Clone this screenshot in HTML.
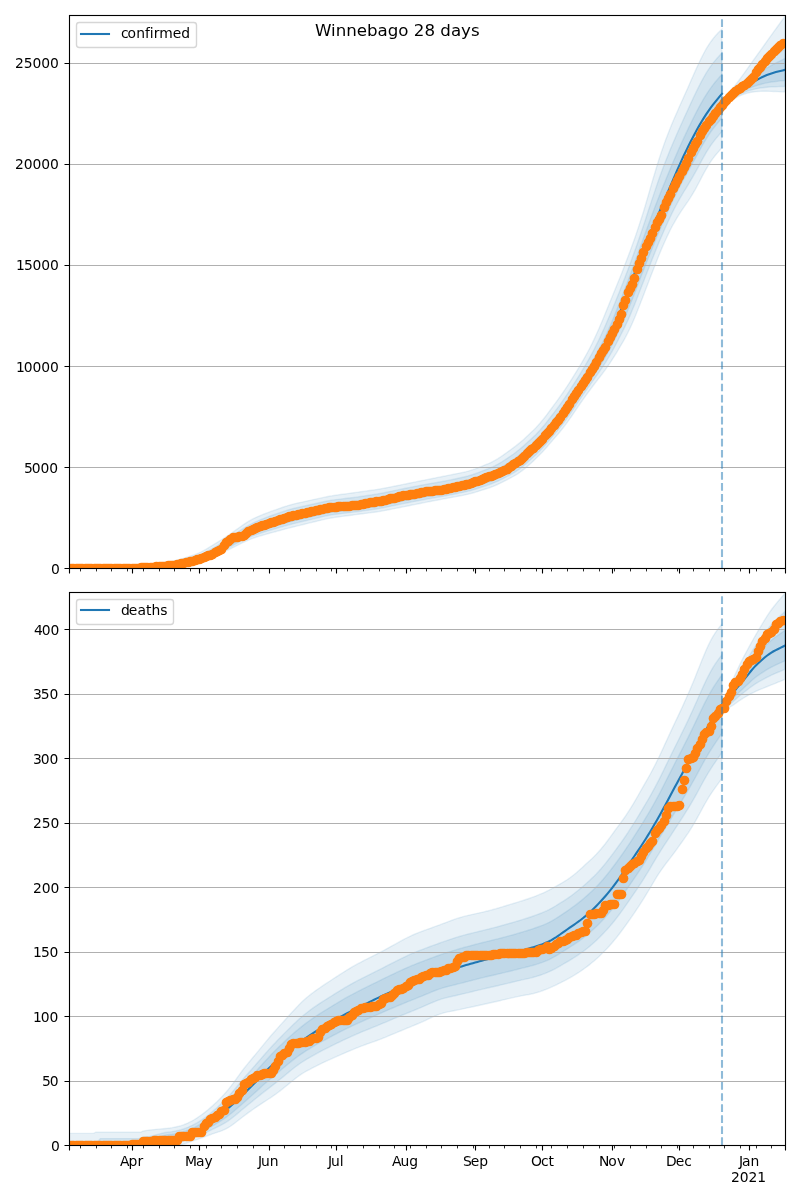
<!DOCTYPE html>
<html lang="en"><head><meta charset="utf-8"><title>Winnebago 28 days</title>
<style>html,body{margin:0;padding:0;background:#fff}svg{display:block}text{font-family:'DejaVu Sans','Liberation Sans',sans-serif;fill:#000;font-variant-ligatures:none}</style></head><body>
<svg width="800" height="1200" viewBox="0 0 800 1200">
<rect width="800" height="1200" fill="#fff"/>
<clipPath id="c1"><rect x="69.5" y="15.5" width="716.0" height="553.0"/></clipPath>
<g clip-path="url(#c1)">
<path d="M68.84 567.5 L71.08 567.47 L73.33 567.43 L75.57 567.4 L77.82 567.36 L80.06 567.33 L82.31 567.29 L84.55 567.26 L86.8 567.22 L89.04 567.18 L91.29 567.15 L93.53 567.11 L95.77 567.07 L98.02 567.04 L100.26 567 L102.51 566.96 L104.75 566.93 L107 566.89 L109.24 566.85 L111.49 566.82 L113.73 566.78 L115.97 566.74 L118.22 566.71 L120.46 566.67 L122.71 566.63 L124.95 566.59 L127.2 566.51 L129.44 566.39 L131.69 566.24 L133.93 566.05 L136.18 565.83 L138.42 565.57 L140.66 565.29 L142.91 565.01 L145.15 564.73 L147.4 564.45 L149.64 564.17 L151.89 563.89 L154.13 563.61 L156.38 563.33 L158.62 563.05 L160.87 562.77 L163.11 562.49 L165.35 562.21 L167.6 561.93 L169.84 561.6 L172.09 561.21 L174.33 560.76 L176.58 560.25 L178.82 559.68 L181.07 559.04 L183.31 558.34 L185.55 557.62 L187.8 556.9 L190.04 556.19 L192.29 555.47 L194.53 554.7 L196.78 553.83 L199.02 552.87 L201.27 551.81 L203.51 550.66 L205.76 549.42 L208 548.08 L210.24 546.7 L212.49 545.31 L214.73 543.93 L216.98 542.55 L219.22 541.17 L221.47 539.76 L223.71 538.32 L225.96 536.85 L228.2 535.35 L230.45 533.82 L232.69 532.26 L234.93 530.67 L237.18 529.08 L239.42 527.49 L241.67 525.9 L243.91 524.34 L246.16 522.86 L248.4 521.47 L250.65 520.17 L252.89 518.96 L255.13 517.84 L257.38 516.8 L259.62 515.85 L261.87 514.92 L264.11 514.01 L266.36 513.14 L268.6 512.29 L270.85 511.46 L273.09 510.67 L275.34 509.88 L277.58 509.1 L279.82 508.31 L282.07 507.53 L284.31 506.76 L286.56 506.04 L288.8 505.35 L291.05 504.71 L293.29 504.12 L295.54 503.56 L297.78 503.05 L300.02 502.56 L302.27 502.07 L304.51 501.58 L306.76 501.08 L309 500.59 L311.25 500.1 L313.49 499.61 L315.74 499.12 L317.98 498.63 L320.23 498.14 L322.47 497.65 L324.71 497.17 L326.96 496.72 L329.2 496.3 L331.45 495.91 L333.69 495.53 L335.94 495.19 L338.18 494.87 L340.43 494.56 L342.67 494.25 L344.92 493.94 L347.16 493.63 L349.4 493.32 L351.65 493.01 L353.89 492.7 L356.14 492.39 L358.38 492.08 L360.63 491.77 L362.87 491.46 L365.12 491.15 L367.36 490.84 L369.6 490.53 L371.85 490.22 L374.09 489.91 L376.34 489.57 L378.58 489.21 L380.83 488.83 L383.07 488.43 L385.32 488.01 L387.56 487.57 L389.81 487.12 L392.05 486.67 L394.29 486.21 L396.54 485.76 L398.78 485.31 L401.03 484.85 L403.27 484.4 L405.52 483.95 L407.76 483.49 L410.01 483.04 L412.25 482.59 L414.5 482.13 L416.74 481.68 L418.98 481.23 L421.23 480.77 L423.47 480.32 L425.72 479.87 L427.96 479.41 L430.21 478.96 L432.45 478.51 L434.7 478.06 L436.94 477.61 L439.18 477.16 L441.43 476.71 L443.67 476.27 L445.92 475.82 L448.16 475.37 L450.41 474.92 L452.65 474.47 L454.9 474.02 L457.14 473.57 L459.39 473.12 L461.63 472.67 L463.87 472.21 L466.12 471.68 L468.36 471.08 L470.61 470.42 L472.85 469.7 L475.1 468.91 L477.34 468.06 L479.59 467.17 L481.83 466.27 L484.08 465.37 L486.32 464.47 L488.56 463.56 L490.81 462.55 L493.05 461.43 L495.3 460.21 L497.54 458.89 L499.79 457.46 L502.03 455.94 L504.28 454.32 L506.52 452.71 L508.76 451.09 L511.01 449.47 L513.25 447.86 L515.5 446.17 L517.74 444.4 L519.99 442.57 L522.23 440.66 L524.48 438.67 L526.72 436.61 L528.97 434.48 L531.21 432.35 L533.45 430.21 L535.7 427.93 L537.94 425.53 L540.19 422.99 L542.43 420.32 L544.68 417.52 L546.92 414.59 L549.17 411.53 L551.41 408.48 L553.66 405.43 L555.9 402.38 L558.14 399.32 L560.39 396.19 L562.63 392.98 L564.88 389.68 L567.12 386.3 L569.37 382.84 L571.61 379.29 L573.86 375.66 L576.1 372.03 L578.34 368.39 L580.59 364.68 L582.83 360.83 L585.08 356.85 L587.32 352.73 L589.57 348.48 L591.81 344.09 L594.06 339.42 L596.3 334.54 L598.55 329.49 L600.79 324.29 L603.03 318.92 L605.28 313.46 L607.52 307.93 L609.77 302.42 L612.01 296.93 L614.26 291.44 L616.5 285.97 L618.75 280.5 L620.99 274.9 L623.23 269.15 L625.48 263.3 L627.72 257.38 L629.97 251.39 L632.21 245.31 L634.46 238.98 L636.7 232.45 L638.95 225.73 L641.19 218.81 L643.44 211.7 L645.68 204.28 L647.92 196.57 L650.17 188.76 L652.41 181.04 L654.66 173.46 L656.9 166.04 L659.15 158.78 L661.39 151.89 L663.64 145.4 L665.88 139.31 L668.13 133.43 L670.37 127.76 L672.61 122.31 L674.86 117.08 L677.1 111.94 L679.35 106.84 L681.59 101.79 L683.84 96.78 L686.08 91.74 L688.33 86.67 L690.57 81.55 L692.81 76.42 L695.06 71.39 L697.3 66.48 L699.55 61.69 L701.79 57.13 L704.04 52.78 L706.28 48.7 L708.53 45.05 L710.77 41.73 L713.02 38.72 L715.26 36.01 L717.5 33.5 L719.75 31.21 L721.99 29.08 L721.99 147.7 L719.75 150.29 L717.5 152.89 L715.26 155.51 L713.02 158.42 L710.77 161.62 L708.53 165.11 L706.28 168.88 L704.04 172.87 L701.79 177.1 L699.55 181.53 L697.3 185.8 L695.06 189.86 L692.81 193.69 L690.57 197.32 L688.33 200.79 L686.08 204.11 L683.84 207.29 L681.59 210.59 L679.35 214.06 L677.1 217.71 L674.86 221.53 L672.61 225.52 L670.37 229.8 L668.13 234.41 L665.88 239.21 L663.64 244.19 L661.39 249.36 L659.15 254.77 L656.9 260.43 L654.66 266.21 L652.41 272.02 L650.17 277.85 L647.92 283.7 L645.68 289.57 L643.44 295.41 L641.19 301.22 L638.95 306.99 L636.7 312.76 L634.46 318.25 L632.21 323.45 L629.97 328.36 L627.72 333 L625.48 337.35 L623.23 341.42 L620.99 345.2 L618.75 348.99 L616.5 352.77 L614.26 356.42 L612.01 359.94 L609.77 363.35 L607.52 366.63 L605.28 369.79 L603.03 372.82 L600.79 375.74 L598.55 378.66 L596.3 381.59 L594.06 384.51 L591.81 387.46 L589.57 390.46 L587.32 393.51 L585.08 396.63 L582.83 399.8 L580.59 403.02 L578.34 406.3 L576.1 409.61 L573.86 412.93 L571.61 416.24 L569.37 419.44 L567.12 422.55 L564.88 425.55 L562.63 428.45 L560.39 431.25 L558.14 433.95 L555.9 436.56 L553.66 439.16 L551.41 441.76 L549.17 444.37 L546.92 446.97 L544.68 449.5 L542.43 451.94 L540.19 454.3 L537.94 456.58 L535.7 458.77 L533.45 460.88 L531.21 462.91 L528.97 464.93 L526.72 466.95 L524.48 468.85 L522.23 470.62 L519.99 472.28 L517.74 473.81 L515.5 475.22 L513.25 476.51 L511.01 477.68 L508.76 478.84 L506.52 480.01 L504.28 481.18 L502.03 482.34 L499.79 483.46 L497.54 484.5 L495.3 485.49 L493.05 486.41 L490.81 487.26 L488.56 488.05 L486.32 488.78 L484.08 489.5 L481.83 490.21 L479.59 490.93 L477.34 491.65 L475.1 492.34 L472.85 492.98 L470.61 493.59 L468.36 494.14 L466.12 494.66 L463.87 495.14 L461.63 495.57 L459.39 495.99 L457.14 496.41 L454.9 496.83 L452.65 497.25 L450.41 497.67 L448.16 498.09 L445.92 498.52 L443.67 498.94 L441.43 499.36 L439.18 499.78 L436.94 500.2 L434.7 500.62 L432.45 501.05 L430.21 501.48 L427.96 501.92 L425.72 502.36 L423.47 502.81 L421.23 503.25 L418.98 503.7 L416.74 504.15 L414.5 504.6 L412.25 505.05 L410.01 505.5 L407.76 505.95 L405.52 506.4 L403.27 506.85 L401.03 507.29 L398.78 507.74 L396.54 508.19 L394.29 508.64 L392.05 509.09 L389.81 509.54 L387.56 509.99 L385.32 510.42 L383.07 510.83 L380.83 511.22 L378.58 511.59 L376.34 511.94 L374.09 512.26 L371.85 512.56 L369.6 512.85 L367.36 513.14 L365.12 513.43 L362.87 513.73 L360.63 514.02 L358.38 514.31 L356.14 514.6 L353.89 514.89 L351.65 515.19 L349.4 515.48 L347.16 515.77 L344.92 516.06 L342.67 516.35 L340.43 516.64 L338.18 516.94 L335.94 517.24 L333.69 517.58 L331.45 517.96 L329.2 518.37 L326.96 518.82 L324.71 519.31 L322.47 519.84 L320.23 520.38 L317.98 520.93 L315.74 521.48 L313.49 522.02 L311.25 522.57 L309 523.12 L306.76 523.67 L304.51 524.21 L302.27 524.76 L300.02 525.31 L297.78 525.85 L295.54 526.41 L293.29 526.97 L291.05 527.53 L288.8 528.11 L286.56 528.7 L284.31 529.29 L282.07 529.89 L279.82 530.5 L277.58 531.1 L275.34 531.71 L273.09 532.32 L270.85 532.93 L268.6 533.54 L266.36 534.17 L264.11 534.81 L261.87 535.46 L259.62 536.12 L257.38 536.79 L255.13 537.51 L252.89 538.29 L250.65 539.14 L248.4 540.05 L246.16 541.02 L243.91 542.06 L241.67 543.17 L239.42 544.29 L237.18 545.41 L234.93 546.53 L232.69 547.65 L230.45 548.76 L228.2 549.86 L225.96 550.95 L223.71 552.02 L221.47 553.08 L219.22 554.13 L216.98 555.16 L214.73 556.2 L212.49 557.24 L210.24 558.27 L208 559.31 L205.76 560.3 L203.51 561.2 L201.27 562 L199.02 562.7 L196.78 563.31 L194.53 563.82 L192.29 564.23 L190.04 564.59 L187.8 564.95 L185.55 565.31 L183.31 565.67 L181.07 566.02 L178.82 566.32 L176.58 566.59 L174.33 566.82 L172.09 567 L169.84 567.15 L167.6 567.25 L165.35 567.33 L163.11 567.41 L160.87 567.48 L158.62 567.56 L156.38 567.63 L154.13 567.71 L151.89 567.79 L149.64 567.86 L147.4 567.94 L145.15 568 L142.91 568 L140.66 568 L138.42 568 L136.18 568 L133.93 568 L131.69 568 L129.44 568 L127.2 568 L124.95 568 L122.71 568 L120.46 568 L118.22 568 L115.97 568 L113.73 568 L111.49 568 L109.24 568 L107 568 L104.75 568 L102.51 568 L100.26 568 L98.02 568 L95.77 568 L93.53 568 L91.29 568 L89.04 568 L86.8 568 L84.55 568 L82.31 568 L80.06 568 L77.82 568 L75.57 568 L73.33 568 L71.08 568 L68.84 568Z" fill="#1f77b4" fill-opacity="0.1" stroke="#1f77b4" stroke-opacity="0.1" stroke-width="1.39" stroke-linejoin="miter"/>
<path d="M68.84 567.83 L71.08 567.81 L73.33 567.79 L75.57 567.76 L77.82 567.74 L80.06 567.71 L82.31 567.69 L84.55 567.66 L86.8 567.64 L89.04 567.61 L91.29 567.58 L93.53 567.56 L95.77 567.53 L98.02 567.51 L100.26 567.48 L102.51 567.46 L104.75 567.43 L107 567.4 L109.24 567.38 L111.49 567.35 L113.73 567.33 L115.97 567.3 L118.22 567.28 L120.46 567.25 L122.71 567.22 L124.95 567.19 L127.2 567.13 L129.44 567.03 L131.69 566.91 L133.93 566.76 L136.18 566.58 L138.42 566.37 L140.66 566.14 L142.91 565.91 L145.15 565.68 L147.4 565.44 L149.64 565.2 L151.89 564.96 L154.13 564.71 L156.38 564.46 L158.62 564.2 L160.87 563.95 L163.11 563.69 L165.35 563.43 L167.6 563.18 L169.84 562.88 L172.09 562.53 L174.33 562.12 L176.58 561.66 L178.82 561.14 L181.07 560.57 L183.31 559.94 L185.55 559.29 L187.8 558.64 L190.04 558 L192.29 557.35 L194.53 556.66 L196.78 555.89 L199.02 555.05 L201.27 554.13 L203.51 553.13 L205.76 552.05 L208 550.88 L210.24 549.64 L212.49 548.38 L214.73 547.09 L216.98 545.75 L219.22 544.36 L221.47 542.93 L223.71 541.47 L225.96 539.98 L228.2 538.47 L230.45 536.95 L232.69 535.44 L234.93 533.94 L237.18 532.46 L239.42 531 L241.67 529.55 L243.91 528.13 L246.16 526.79 L248.4 525.51 L250.65 524.3 L252.89 523.16 L255.13 522.08 L257.38 521.06 L259.62 520.1 L261.87 519.18 L264.11 518.28 L266.36 517.41 L268.6 516.57 L270.85 515.76 L273.09 514.98 L275.34 514.21 L277.58 513.44 L279.82 512.67 L282.07 511.89 L284.31 511.14 L286.56 510.43 L288.8 509.76 L291.05 509.12 L293.29 508.53 L295.54 507.97 L297.78 507.45 L300.02 506.96 L302.27 506.46 L304.51 505.97 L306.76 505.47 L309 504.98 L311.25 504.48 L313.49 503.98 L315.74 503.48 L317.98 502.98 L320.23 502.48 L322.47 501.98 L324.71 501.5 L326.96 501.05 L329.2 500.64 L331.45 500.26 L333.69 499.92 L335.94 499.61 L338.18 499.34 L340.43 499.08 L342.67 498.82 L344.92 498.55 L347.16 498.29 L349.4 498.03 L351.65 497.75 L353.89 497.46 L356.14 497.16 L358.38 496.85 L360.63 496.53 L362.87 496.2 L365.12 495.87 L367.36 495.54 L369.6 495.2 L371.85 494.87 L374.09 494.52 L376.34 494.16 L378.58 493.78 L380.83 493.37 L383.07 492.95 L385.32 492.51 L387.56 492.04 L389.81 491.56 L392.05 491.08 L394.29 490.6 L396.54 490.13 L398.78 489.65 L401.03 489.18 L403.27 488.72 L405.52 488.27 L407.76 487.82 L410.01 487.38 L412.25 486.95 L414.5 486.52 L416.74 486.1 L418.98 485.67 L421.23 485.25 L423.47 484.83 L425.72 484.41 L427.96 484 L430.21 483.6 L432.45 483.2 L434.7 482.82 L436.94 482.44 L439.18 482.06 L441.43 481.67 L443.67 481.26 L445.92 480.83 L448.16 480.39 L450.41 479.93 L452.65 479.46 L454.9 478.97 L457.14 478.49 L459.39 478.01 L461.63 477.52 L463.87 477.02 L466.12 476.47 L468.36 475.87 L470.61 475.21 L472.85 474.5 L475.1 473.73 L477.34 472.92 L479.59 472.06 L481.83 471.2 L484.08 470.35 L486.32 469.49 L488.56 468.62 L490.81 467.68 L493.05 466.65 L495.3 465.54 L497.54 464.36 L499.79 463.09 L502.03 461.73 L504.28 460.27 L506.52 458.8 L508.76 457.3 L511.01 455.77 L513.25 454.22 L515.5 452.57 L517.74 450.81 L519.99 448.99 L522.23 447.1 L524.48 445.14 L526.72 443.11 L528.97 441.01 L531.21 438.93 L533.45 436.85 L535.7 434.66 L537.94 432.34 L540.19 429.9 L542.43 427.33 L544.68 424.65 L546.92 421.84 L549.17 418.92 L551.41 416 L553.66 413.08 L555.9 410.13 L558.14 407.16 L560.39 404.1 L562.63 400.94 L564.88 397.69 L567.12 394.35 L569.37 390.92 L571.61 387.43 L573.86 383.87 L576.1 380.31 L578.34 376.76 L580.59 373.16 L582.83 369.48 L585.08 365.71 L587.32 361.84 L589.57 357.87 L591.81 353.79 L594.06 349.51 L596.3 345.06 L598.55 340.48 L600.79 335.73 L603.03 330.82 L605.28 325.76 L607.52 320.56 L609.77 315.29 L612.01 309.92 L614.26 304.47 L616.5 298.96 L618.75 293.39 L620.99 287.73 L623.23 281.96 L625.48 276.1 L627.72 270.17 L629.97 264.17 L632.21 258.08 L634.46 251.83 L636.7 245.46 L638.95 238.98 L641.19 232.4 L643.44 225.73 L645.68 218.96 L647.92 212.07 L650.17 205.17 L652.41 198.35 L654.66 191.65 L656.9 185.06 L659.15 178.59 L661.39 172.35 L663.64 166.33 L665.88 160.55 L668.13 154.89 L670.37 149.35 L672.61 143.96 L674.86 138.73 L677.1 133.58 L679.35 128.49 L681.59 123.46 L683.84 118.52 L686.08 113.62 L688.33 108.74 L690.57 103.86 L692.81 99 L695.06 94.27 L697.3 89.66 L699.55 85.16 L701.79 80.87 L704.04 76.78 L706.28 72.92 L708.53 69.39 L710.77 66.12 L713.02 63.11 L715.26 60.35 L717.5 57.75 L719.75 55.32 L721.99 53.01 L721.99 131.52 L719.75 134.12 L717.5 136.73 L715.26 139.39 L713.02 142.29 L710.77 145.43 L708.53 148.83 L706.28 152.46 L704.04 156.3 L701.79 160.36 L699.55 164.61 L697.3 168.8 L695.06 172.86 L692.81 176.82 L690.57 180.68 L688.33 184.45 L686.08 188.13 L683.84 191.76 L681.59 195.52 L679.35 199.45 L677.1 203.53 L674.86 207.75 L672.61 212.12 L670.37 216.7 L668.13 221.52 L665.88 226.46 L663.64 231.52 L661.39 236.7 L659.15 242.04 L656.9 247.54 L654.66 253.13 L652.41 258.76 L650.17 264.42 L647.92 270.13 L645.68 275.88 L643.44 281.68 L641.19 287.51 L638.95 293.36 L636.7 299.22 L634.46 304.88 L632.21 310.36 L629.97 315.63 L627.72 320.68 L625.48 325.51 L623.23 330.12 L620.99 334.51 L618.75 338.9 L616.5 343.26 L614.26 347.48 L612.01 351.57 L609.77 355.5 L607.52 359.26 L605.28 362.86 L603.03 366.3 L600.79 369.59 L598.55 372.82 L596.3 376.01 L594.06 379.16 L591.81 382.31 L589.57 385.48 L587.32 388.67 L585.08 391.87 L582.83 395.12 L580.59 398.4 L578.34 401.71 L576.1 405.06 L573.86 408.4 L571.61 411.75 L569.37 415.01 L567.12 418.2 L564.88 421.29 L562.63 424.27 L560.39 427.15 L558.14 429.92 L555.9 432.59 L553.66 435.24 L551.41 437.88 L549.17 440.51 L546.92 443.14 L544.68 445.69 L542.43 448.14 L540.19 450.51 L537.94 452.79 L535.7 454.97 L533.45 457.07 L531.21 459.08 L528.97 461.09 L526.72 463.12 L524.48 465.04 L522.23 466.86 L519.99 468.57 L517.74 470.19 L515.5 471.69 L513.25 473.07 L511.01 474.32 L508.76 475.55 L506.52 476.76 L504.28 477.95 L502.03 479.12 L499.79 480.22 L497.54 481.25 L495.3 482.23 L493.05 483.15 L490.81 484.01 L488.56 484.81 L486.32 485.56 L484.08 486.29 L481.83 487.03 L479.59 487.77 L477.34 488.51 L475.1 489.22 L472.85 489.89 L470.61 490.52 L468.36 491.11 L466.12 491.65 L463.87 492.16 L461.63 492.63 L459.39 493.09 L457.14 493.55 L454.9 494 L452.65 494.46 L450.41 494.91 L448.16 495.35 L445.92 495.77 L443.67 496.18 L441.43 496.58 L439.18 496.97 L436.94 497.34 L434.7 497.71 L432.45 498.09 L430.21 498.49 L427.96 498.89 L425.72 499.3 L423.47 499.71 L421.23 500.14 L418.98 500.57 L416.74 500.99 L414.5 501.42 L412.25 501.85 L410.01 502.28 L407.76 502.72 L405.52 503.16 L403.27 503.61 L401.03 504.07 L398.78 504.53 L396.54 505 L394.29 505.47 L392.05 505.94 L389.81 506.41 L387.56 506.89 L385.32 507.34 L383.07 507.78 L380.83 508.19 L378.58 508.58 L376.34 508.95 L374.09 509.3 L371.85 509.62 L369.6 509.94 L367.36 510.26 L365.12 510.57 L362.87 510.89 L360.63 511.21 L358.38 511.51 L356.14 511.81 L353.89 512.09 L351.65 512.37 L349.4 512.64 L347.16 512.91 L344.92 513.16 L342.67 513.42 L340.43 513.68 L338.18 513.94 L335.94 514.21 L333.69 514.52 L331.45 514.88 L329.2 515.27 L326.96 515.7 L324.71 516.18 L322.47 516.69 L320.23 517.23 L317.98 517.77 L315.74 518.31 L313.49 518.84 L311.25 519.38 L309 519.92 L306.76 520.45 L304.51 520.98 L302.27 521.52 L300.02 522.05 L297.78 522.58 L295.54 523.13 L293.29 523.69 L291.05 524.26 L288.8 524.85 L286.56 525.46 L284.31 526.08 L282.07 526.72 L279.82 527.37 L277.58 528.02 L275.34 528.67 L273.09 529.31 L270.85 529.97 L268.6 530.64 L266.36 531.33 L264.11 532.03 L261.87 532.75 L259.62 533.49 L257.38 534.24 L255.13 535.04 L252.89 535.89 L250.65 536.8 L248.4 537.75 L246.16 538.76 L243.91 539.82 L241.67 540.94 L239.42 542.09 L237.18 543.25 L234.93 544.43 L232.69 545.61 L230.45 546.82 L228.2 548.04 L225.96 549.26 L223.71 550.46 L221.47 551.65 L219.22 552.83 L216.98 553.98 L214.73 555.08 L212.49 556.15 L210.24 557.19 L208 558.21 L205.76 559.17 L203.51 560.04 L201.27 560.82 L199.02 561.52 L196.78 562.14 L194.53 562.68 L192.29 563.13 L190.04 563.54 L187.8 563.95 L185.55 564.36 L183.31 564.77 L181.07 565.16 L178.82 565.52 L176.58 565.83 L174.33 566.1 L172.09 566.33 L169.84 566.52 L167.6 566.67 L165.35 566.79 L163.11 566.91 L160.87 567.02 L158.62 567.14 L156.38 567.26 L154.13 567.37 L151.89 567.49 L149.64 567.59 L147.4 567.7 L145.15 567.8 L142.91 567.9 L140.66 568 L138.42 568 L136.18 568 L133.93 568 L131.69 568 L129.44 568 L127.2 568 L124.95 568 L122.71 568 L120.46 568 L118.22 568 L115.97 568 L113.73 568 L111.49 568 L109.24 568 L107 568 L104.75 568 L102.51 568 L100.26 568 L98.02 568 L95.77 568 L93.53 568 L91.29 568 L89.04 568 L86.8 568 L84.55 568 L82.31 568 L80.06 568 L77.82 568 L75.57 568 L73.33 568 L71.08 568 L68.84 568Z" fill="#1f77b4" fill-opacity="0.1" stroke="#1f77b4" stroke-opacity="0.1" stroke-width="1.39" stroke-linejoin="miter"/>
<path d="M68.84 568.13 L71.08 568.12 L73.33 568.1 L75.57 568.09 L77.82 568.07 L80.06 568.05 L82.31 568.04 L84.55 568.02 L86.8 568.01 L89.04 567.99 L91.29 567.97 L93.53 567.96 L95.77 567.94 L98.02 567.93 L100.26 567.91 L102.51 567.89 L104.75 567.88 L107 567.86 L109.24 567.85 L111.49 567.83 L113.73 567.81 L115.97 567.8 L118.22 567.78 L120.46 567.77 L122.71 567.75 L124.95 567.73 L127.2 567.68 L129.44 567.61 L131.69 567.51 L133.93 567.39 L136.18 567.25 L138.42 567.08 L140.66 566.9 L142.91 566.72 L145.15 566.53 L147.4 566.33 L149.64 566.13 L151.89 565.91 L154.13 565.7 L156.38 565.47 L158.62 565.23 L160.87 565 L163.11 564.76 L165.35 564.53 L167.6 564.29 L169.84 564.02 L172.09 563.71 L174.33 563.34 L176.58 562.92 L178.82 562.45 L181.07 561.93 L183.31 561.36 L185.55 560.78 L187.8 560.19 L190.04 559.61 L192.29 559.03 L194.53 558.41 L196.78 557.73 L199.02 556.99 L201.27 556.19 L203.51 555.33 L205.76 554.4 L208 553.37 L210.24 552.27 L212.49 551.12 L214.73 549.91 L216.98 548.61 L219.22 547.21 L221.47 545.75 L223.71 544.27 L225.96 542.77 L228.2 541.26 L230.45 539.74 L232.69 538.27 L234.93 536.86 L237.18 535.48 L239.42 534.12 L241.67 532.8 L243.91 531.51 L246.16 530.29 L248.4 529.12 L250.65 527.99 L252.89 526.9 L255.13 525.86 L257.38 524.85 L259.62 523.9 L261.87 522.98 L264.11 522.08 L266.36 521.22 L268.6 520.39 L270.85 519.59 L273.09 518.82 L275.34 518.06 L277.58 517.31 L279.82 516.55 L282.07 515.79 L284.31 515.05 L286.56 514.35 L288.8 513.68 L291.05 513.05 L293.29 512.46 L295.54 511.9 L297.78 511.38 L300.02 510.89 L302.27 510.39 L304.51 509.89 L306.76 509.39 L309 508.89 L311.25 508.39 L313.49 507.88 L315.74 507.38 L317.98 506.87 L320.23 506.36 L322.47 505.84 L324.71 505.36 L326.96 504.91 L329.2 504.51 L331.45 504.15 L333.69 503.83 L335.94 503.56 L338.18 503.32 L340.43 503.1 L342.67 502.89 L344.92 502.67 L347.16 502.45 L349.4 502.22 L351.65 501.97 L353.89 501.7 L356.14 501.42 L358.38 501.11 L360.63 500.78 L362.87 500.43 L365.12 500.08 L367.36 499.72 L369.6 499.36 L371.85 499.01 L374.09 498.64 L376.34 498.26 L378.58 497.85 L380.83 497.43 L383.07 496.98 L385.32 496.51 L387.56 496.02 L389.81 495.52 L392.05 495.02 L394.29 494.52 L396.54 494.02 L398.78 493.52 L401.03 493.04 L403.27 492.57 L405.52 492.12 L407.76 491.68 L410.01 491.25 L412.25 490.84 L414.5 490.44 L416.74 490.04 L418.98 489.64 L421.23 489.24 L423.47 488.84 L425.72 488.46 L427.96 488.09 L430.21 487.73 L432.45 487.39 L434.7 487.06 L436.94 486.75 L439.18 486.43 L441.43 486.09 L443.67 485.71 L445.92 485.3 L448.16 484.87 L450.41 484.4 L452.65 483.9 L454.9 483.39 L457.14 482.87 L459.39 482.36 L461.63 481.85 L463.87 481.32 L466.12 480.75 L468.36 480.13 L470.61 479.48 L472.85 478.78 L475.1 478.03 L477.34 477.25 L479.59 476.43 L481.83 475.61 L484.08 474.79 L486.32 473.97 L488.56 473.14 L490.81 472.25 L493.05 471.31 L495.3 470.3 L497.54 469.23 L499.79 468.11 L502.03 466.89 L504.28 465.58 L506.52 464.23 L508.76 462.83 L511.01 461.39 L513.25 459.9 L515.5 458.27 L517.74 456.53 L519.99 454.72 L522.23 452.84 L524.48 450.9 L526.72 448.9 L528.97 446.83 L531.21 444.79 L533.45 442.78 L535.7 440.65 L537.94 438.41 L540.19 436.06 L542.43 433.59 L544.68 431.01 L546.92 428.31 L549.17 425.51 L551.41 422.71 L553.66 419.9 L555.9 417.05 L558.14 414.15 L560.39 411.15 L562.63 408.05 L564.88 404.84 L567.12 401.53 L569.37 398.13 L571.61 394.68 L573.86 391.19 L576.1 387.7 L578.34 384.23 L580.59 380.73 L582.83 377.19 L585.08 373.6 L587.32 369.97 L589.57 366.25 L591.81 362.45 L594.06 358.5 L596.3 354.45 L598.55 350.28 L600.79 345.94 L603.03 341.44 L605.28 336.73 L607.52 331.83 L609.77 326.76 L612.01 321.51 L614.26 316.08 L616.5 310.54 L618.75 304.89 L620.99 299.17 L623.23 293.38 L625.48 287.52 L627.72 281.58 L629.97 275.57 L632.21 269.47 L634.46 263.29 L636.7 257.06 L638.95 250.79 L641.19 244.51 L643.44 238.26 L645.68 232.05 L647.92 225.89 L650.17 219.8 L652.41 213.79 L654.66 207.87 L656.9 202.03 L659.15 196.27 L661.39 190.59 L663.64 185 L665.88 179.5 L668.13 174.03 L670.37 168.62 L672.61 163.27 L674.86 158.05 L677.1 152.89 L679.35 147.8 L681.59 142.8 L683.84 137.91 L686.08 133.13 L688.33 128.42 L690.57 123.76 L692.81 119.14 L695.06 114.67 L697.3 110.33 L699.55 106.1 L701.79 102.05 L704.04 98.19 L706.28 94.52 L708.53 91.1 L710.77 87.88 L713.02 84.87 L715.26 82.06 L717.5 79.38 L719.75 76.82 L721.99 74.35 L721.99 118.03 L719.75 120.64 L717.5 123.27 L715.26 125.97 L713.02 128.84 L710.77 131.94 L708.53 135.26 L706.28 138.78 L704.04 142.5 L701.79 146.41 L699.55 150.51 L697.3 154.63 L695.06 158.7 L692.81 162.76 L690.57 166.81 L688.33 170.83 L686.08 174.82 L683.84 178.83 L681.59 182.97 L679.35 187.27 L677.1 191.71 L674.86 196.27 L672.61 200.94 L670.37 205.78 L668.13 210.78 L665.88 215.84 L663.64 220.97 L661.39 226.16 L659.15 231.43 L656.9 236.79 L654.66 242.23 L652.41 247.71 L650.17 253.24 L647.92 258.82 L645.68 264.48 L643.44 270.24 L641.19 276.09 L638.95 281.99 L636.7 287.93 L634.46 293.75 L632.21 299.46 L629.97 305.02 L627.72 310.42 L625.48 315.65 L623.23 320.71 L620.99 325.61 L618.75 330.49 L616.5 335.33 L614.26 340.04 L612.01 344.6 L609.77 348.97 L607.52 353.12 L605.28 357.09 L603.03 360.87 L600.79 364.46 L598.55 367.96 L596.3 371.36 L594.06 374.7 L591.81 378.03 L589.57 381.33 L587.32 384.63 L585.08 387.91 L582.83 391.22 L580.59 394.54 L578.34 397.89 L576.1 401.26 L573.86 404.63 L571.61 408.01 L569.37 411.33 L567.12 414.58 L564.88 417.73 L562.63 420.78 L560.39 423.72 L558.14 426.55 L555.9 429.28 L553.66 431.98 L551.41 434.64 L549.17 437.29 L546.92 439.94 L544.68 442.51 L542.43 444.98 L540.19 447.35 L537.94 449.63 L535.7 451.8 L533.45 453.89 L531.21 455.88 L528.97 457.89 L526.72 459.92 L524.48 461.86 L522.23 463.72 L519.99 465.49 L517.74 467.16 L515.5 468.75 L513.25 470.21 L511.01 471.53 L508.76 472.8 L506.52 474.05 L504.28 475.26 L502.03 476.43 L499.79 477.52 L497.54 478.54 L495.3 479.51 L493.05 480.43 L490.81 481.29 L488.56 482.11 L486.32 482.87 L484.08 483.63 L481.83 484.38 L479.59 485.14 L477.34 485.89 L475.1 486.62 L472.85 487.31 L470.61 487.96 L468.36 488.57 L466.12 489.15 L463.87 489.68 L461.63 490.18 L459.39 490.67 L457.14 491.16 L454.9 491.65 L452.65 492.14 L450.41 492.61 L448.16 493.06 L445.92 493.49 L443.67 493.89 L441.43 494.27 L439.18 494.62 L436.94 494.95 L434.7 495.28 L432.45 495.63 L430.21 495.99 L427.96 496.36 L425.72 496.74 L423.47 497.14 L421.23 497.54 L418.98 497.95 L416.74 498.36 L414.5 498.77 L412.25 499.18 L410.01 499.6 L407.76 500.03 L405.52 500.47 L403.27 500.92 L401.03 501.39 L398.78 501.86 L396.54 502.35 L394.29 502.83 L392.05 503.32 L389.81 503.81 L387.56 504.3 L385.32 504.77 L383.07 505.23 L380.83 505.66 L378.58 506.07 L376.34 506.46 L374.09 506.83 L371.85 507.17 L369.6 507.51 L367.36 507.85 L365.12 508.19 L362.87 508.53 L360.63 508.86 L358.38 509.18 L356.14 509.48 L353.89 509.76 L351.65 510.03 L349.4 510.28 L347.16 510.52 L344.92 510.75 L342.67 510.98 L340.43 511.21 L338.18 511.44 L335.94 511.69 L333.69 511.98 L331.45 512.31 L329.2 512.68 L326.96 513.1 L324.71 513.57 L322.47 514.07 L320.23 514.61 L317.98 515.14 L315.74 515.67 L313.49 516.19 L311.25 516.72 L309 517.25 L306.76 517.77 L304.51 518.29 L302.27 518.82 L300.02 519.34 L297.78 519.86 L295.54 520.4 L293.29 520.95 L291.05 521.53 L288.8 522.14 L286.56 522.76 L284.31 523.41 L282.07 524.08 L279.82 524.77 L277.58 525.45 L275.34 526.13 L273.09 526.81 L270.85 527.51 L268.6 528.22 L266.36 528.96 L264.11 529.71 L261.87 530.49 L259.62 531.3 L257.38 532.12 L255.13 532.99 L252.89 533.9 L250.65 534.85 L248.4 535.84 L246.16 536.87 L243.91 537.95 L241.67 539.09 L239.42 540.26 L237.18 541.46 L234.93 542.67 L232.69 543.91 L230.45 545.2 L228.2 546.52 L225.96 547.85 L223.71 549.16 L221.47 550.46 L219.22 551.75 L216.98 552.99 L214.73 554.15 L212.49 555.24 L210.24 556.28 L208 557.29 L205.76 558.23 L203.51 559.07 L201.27 559.84 L199.02 560.53 L196.78 561.16 L194.53 561.72 L192.29 562.21 L190.04 562.66 L187.8 563.11 L185.55 563.56 L183.31 564.01 L181.07 564.45 L178.82 564.85 L176.58 565.2 L174.33 565.51 L172.09 565.78 L169.84 566 L167.6 566.18 L165.35 566.34 L163.11 566.49 L160.87 566.64 L158.62 566.8 L156.38 566.95 L154.13 567.09 L151.89 567.23 L149.64 567.37 L147.4 567.5 L145.15 567.62 L142.91 567.74 L140.66 567.85 L138.42 567.96 L136.18 568 L133.93 568 L131.69 568 L129.44 568 L127.2 568 L124.95 568 L122.71 568 L120.46 568 L118.22 568 L115.97 568 L113.73 568 L111.49 568 L109.24 568 L107 568 L104.75 568 L102.51 568 L100.26 568 L98.02 568 L95.77 568 L93.53 568 L91.29 568 L89.04 568 L86.8 568 L84.55 568 L82.31 568 L80.06 568 L77.82 568 L75.57 568 L73.33 568 L71.08 568 L68.84 568Z" fill="#1f77b4" fill-opacity="0.1" stroke="#1f77b4" stroke-opacity="0.1" stroke-width="1.39" stroke-linejoin="miter"/>
<path d="M724.24 98.97 L726.48 96.18 L728.73 93.39 L730.97 90.61 L733.22 87.81 L735.46 84.95 L737.71 82.01 L739.95 79.01 L742.19 75.93 L744.44 72.79 L746.68 69.64 L748.93 66.5 L751.17 63.36 L753.42 60.22 L755.66 57.07 L757.91 53.93 L760.15 50.79 L762.39 47.65 L764.64 44.5 L766.88 41.36 L769.13 38.22 L771.37 35.08 L773.62 31.95 L775.86 28.83 L778.11 25.72 L780.35 22.61 L782.6 19.51 L784.84 16.41 L784.84 91.97 L782.6 91.86 L780.35 91.75 L778.11 91.65 L775.86 91.56 L773.62 91.47 L771.37 91.39 L769.13 91.33 L766.88 91.29 L764.64 91.28 L762.39 91.3 L760.15 91.35 L757.91 91.47 L755.66 91.66 L753.42 91.94 L751.17 92.29 L748.93 92.74 L746.68 93.33 L744.44 94.03 L742.19 94.85 L739.95 95.77 L737.71 96.85 L735.46 98.02 L733.22 99.27 L730.97 100.62 L728.73 102.05 L726.48 103.5 L724.24 104.94Z" fill="#1f77b4" fill-opacity="0.1" stroke="#1f77b4" stroke-opacity="0.1" stroke-width="1.39"/>
<path d="M724.24 101.46 L726.48 99.15 L728.73 96.85 L730.97 94.56 L733.22 92.32 L735.46 90.1 L737.71 87.91 L739.95 85.73 L742.19 83.6 L744.44 81.48 L746.68 79.39 L748.93 77.34 L751.17 75.33 L753.42 73.35 L755.66 71.38 L757.91 69.42 L760.15 67.48 L762.39 65.57 L764.64 63.72 L766.88 61.92 L769.13 60.17 L771.37 58.49 L773.62 56.84 L775.86 55.22 L778.11 53.64 L780.35 52.08 L782.6 50.55 L784.84 49.01 L784.84 86.44 L782.6 86.49 L780.35 86.55 L778.11 86.61 L775.86 86.69 L773.62 86.79 L771.37 86.91 L769.13 87.05 L766.88 87.24 L764.64 87.46 L762.39 87.73 L760.15 88.04 L757.91 88.43 L755.66 88.88 L753.42 89.39 L751.17 89.96 L748.93 90.62 L746.68 91.4 L744.44 92.28 L742.19 93.26 L739.95 94.34 L737.71 95.56 L735.46 96.86 L733.22 98.26 L730.97 99.74 L728.73 101.3 L726.48 102.89 L724.24 104.47Z" fill="#1f77b4" fill-opacity="0.1" stroke="#1f77b4" stroke-opacity="0.1" stroke-width="1.39"/>
<path d="M724.24 102.19 L726.48 100.03 L728.73 97.87 L730.97 95.73 L733.22 93.65 L735.46 91.62 L737.71 89.64 L739.95 87.72 L742.19 85.87 L744.44 84.04 L746.68 82.27 L748.93 80.54 L751.17 78.87 L753.42 77.23 L755.66 75.6 L757.91 73.99 L760.15 72.4 L762.39 70.86 L764.64 69.39 L766.88 67.99 L769.13 66.65 L771.37 65.39 L773.62 64.18 L775.86 63.01 L778.11 61.88 L780.35 60.78 L782.6 59.71 L784.84 58.63 L784.84 80.47 L782.6 80.7 L780.35 80.92 L778.11 81.17 L775.86 81.44 L773.62 81.74 L771.37 82.06 L769.13 82.43 L766.88 82.86 L764.64 83.34 L762.39 83.88 L760.15 84.48 L757.91 85.15 L755.66 85.87 L753.42 86.64 L751.17 87.45 L748.93 88.34 L746.68 89.32 L744.44 90.4 L742.19 91.55 L739.95 92.79 L737.71 94.16 L735.46 95.61 L733.22 97.16 L730.97 98.78 L728.73 100.5 L726.48 102.23 L724.24 103.96Z" fill="#1f77b4" fill-opacity="0.1" stroke="#1f77b4" stroke-opacity="0.1" stroke-width="1.39"/>
</g>
<path d="M68.84 467.5H784.84M68.84 366.5H784.84M68.84 265.5H784.84M68.84 164.5H784.84M68.84 63.5H784.84" stroke="#b0b0b0" stroke-width="1.11" fill="none"/>
<g clip-path="url(#c1)">
<path d="M68.84 568.4 L71.08 568.39 L73.33 568.39 L75.57 568.38 L77.82 568.37 L80.06 568.37 L82.31 568.36 L84.55 568.35 L86.8 568.34 L89.04 568.34 L91.29 568.33 L93.53 568.32 L95.77 568.31 L98.02 568.31 L100.26 568.3 L102.51 568.29 L104.75 568.29 L107 568.28 L109.24 568.27 L111.49 568.26 L113.73 568.26 L115.97 568.25 L118.22 568.24 L120.46 568.23 L122.71 568.23 L124.95 568.21 L127.2 568.18 L129.44 568.13 L131.69 568.06 L133.93 567.97 L136.18 567.86 L138.42 567.73 L140.66 567.59 L142.91 567.45 L145.15 567.3 L147.4 567.14 L149.64 566.96 L151.89 566.78 L154.13 566.59 L156.38 566.39 L158.62 566.17 L160.87 565.96 L163.11 565.74 L165.35 565.53 L167.6 565.31 L169.84 565.06 L172.09 564.77 L174.33 564.44 L176.58 564.06 L178.82 563.64 L181.07 563.17 L183.31 562.66 L185.55 562.13 L187.8 561.6 L190.04 561.08 L192.29 560.55 L194.53 560 L196.78 559.4 L199.02 558.76 L201.27 558.07 L203.51 557.33 L205.76 556.54 L208 555.64 L210.24 554.66 L212.49 553.6 L214.73 552.47 L216.98 551.2 L219.22 549.8 L221.47 548.32 L223.71 546.82 L225.96 545.31 L228.2 543.79 L230.45 542.27 L232.69 540.85 L234.93 539.51 L237.18 538.22 L239.42 536.97 L241.67 535.75 L243.91 534.58 L246.16 533.47 L248.4 532.39 L250.65 531.34 L252.89 530.3 L255.13 529.29 L257.38 528.3 L259.62 527.35 L261.87 526.43 L264.11 525.54 L266.36 524.69 L268.6 523.86 L270.85 523.07 L273.09 522.31 L275.34 521.57 L277.58 520.82 L279.82 520.08 L282.07 519.33 L284.31 518.6 L286.56 517.91 L288.8 517.25 L291.05 516.62 L293.29 516.03 L295.54 515.48 L297.78 514.96 L300.02 514.45 L302.27 513.95 L304.51 513.45 L306.76 512.95 L309 512.44 L311.25 511.94 L313.49 511.43 L315.74 510.91 L317.98 510.4 L320.23 509.88 L322.47 509.36 L324.71 508.86 L326.96 508.42 L329.2 508.03 L331.45 507.68 L333.69 507.39 L335.94 507.14 L338.18 506.95 L340.43 506.77 L342.67 506.59 L344.92 506.41 L347.16 506.23 L349.4 506.03 L351.65 505.81 L353.89 505.56 L356.14 505.28 L358.38 504.98 L360.63 504.64 L362.87 504.28 L365.12 503.9 L367.36 503.52 L369.6 503.15 L371.85 502.77 L374.09 502.38 L376.34 501.98 L378.58 501.55 L380.83 501.11 L383.07 500.64 L385.32 500.15 L387.56 499.65 L389.81 499.13 L392.05 498.6 L394.29 498.08 L396.54 497.56 L398.78 497.05 L401.03 496.55 L403.27 496.08 L405.52 495.62 L407.76 495.19 L410.01 494.77 L412.25 494.38 L414.5 494 L416.74 493.63 L418.98 493.25 L421.23 492.87 L423.47 492.5 L425.72 492.14 L427.96 491.81 L430.21 491.49 L432.45 491.19 L434.7 490.92 L436.94 490.66 L439.18 490.4 L441.43 490.1 L443.67 489.76 L445.92 489.37 L448.16 488.94 L450.41 488.47 L452.65 487.95 L454.9 487.41 L457.14 486.86 L459.39 486.32 L461.63 485.78 L463.87 485.22 L466.12 484.64 L468.36 484.01 L470.61 483.36 L472.85 482.67 L475.1 481.94 L477.34 481.18 L479.59 480.39 L481.83 479.61 L484.08 478.82 L486.32 478.04 L488.56 477.25 L490.81 476.41 L493.05 475.54 L495.3 474.62 L497.54 473.67 L499.79 472.67 L502.03 471.59 L504.28 470.41 L506.52 469.17 L508.76 467.86 L511.01 466.49 L513.25 465.06 L515.5 463.46 L517.74 461.73 L519.99 459.93 L522.23 458.07 L524.48 456.15 L526.72 454.17 L528.97 452.13 L531.21 450.13 L533.45 448.16 L535.7 446.1 L537.94 443.93 L540.19 441.66 L542.43 439.28 L544.68 436.79 L546.92 434.19 L549.17 431.5 L551.41 428.81 L553.66 426.1 L555.9 423.33 L558.14 420.5 L560.39 417.56 L562.63 414.5 L564.88 411.34 L567.12 408.06 L569.37 404.69 L571.61 401.28 L573.86 397.85 L576.1 394.42 L578.34 391.01 L580.59 387.61 L582.83 384.2 L585.08 380.78 L587.32 377.35 L589.57 373.87 L591.81 370.31 L594.06 366.68 L596.3 362.99 L598.55 359.19 L600.79 355.23 L603.03 351.09 L605.28 346.7 L607.52 342.07 L609.77 337.2 L612.01 332.04 L614.26 326.64 L616.5 321.07 L618.75 315.34 L620.99 309.57 L623.23 303.77 L625.48 297.9 L627.72 291.95 L629.97 285.93 L632.21 279.83 L634.46 273.71 L636.7 267.61 L638.95 261.54 L641.19 255.53 L643.44 249.64 L645.68 243.95 L647.92 238.46 L650.17 233.1 L652.41 227.83 L654.66 222.62 L656.9 217.46 L659.15 212.33 L661.39 207.17 L663.64 201.97 L665.88 196.72 L668.13 191.44 L670.37 186.13 L672.61 180.83 L674.86 175.6 L677.1 170.44 L679.35 165.36 L681.59 160.37 L683.84 155.54 L686.08 150.86 L688.33 146.31 L690.57 141.84 L692.81 137.45 L695.06 133.21 L697.3 129.12 L699.55 125.13 L701.79 121.3 L704.04 117.64 L706.28 114.16 L708.53 110.83 L710.77 107.66 L713.02 104.64 L715.26 101.79 L717.5 99.04 L719.75 96.37 L721.99 93.76" fill="none" stroke="#1f77b4" stroke-width="2.08" stroke-linejoin="round" stroke-linecap="square"/>
<path d="M724.24 103.05 L726.48 101.06 L728.73 99.06 L730.97 97.09 L733.22 95.2 L735.46 93.4 L737.71 91.67 L739.95 90.04 L742.19 88.51 L744.44 87.04 L746.68 85.62 L748.93 84.27 L751.17 82.99 L753.42 81.75 L755.66 80.52 L757.91 79.32 L760.15 78.14 L762.39 77.04 L764.64 76.01 L766.88 75.07 L769.13 74.21 L771.37 73.45 L773.62 72.75 L775.86 72.1 L778.11 71.49 L780.35 70.93 L782.6 70.39 L784.84 69.86" fill="none" stroke="#1f77b4" stroke-width="2.08" stroke-linejoin="round" stroke-linecap="square"/>
<g fill="#ff7f0e">
<circle cx="69.5" cy="568.5" r="4.86"/>
<circle cx="71.5" cy="568.5" r="4.86"/>
<circle cx="73.5" cy="568.5" r="4.86"/>
<circle cx="76.5" cy="568.5" r="4.86"/>
<circle cx="78.5" cy="568.5" r="4.86"/>
<circle cx="80.5" cy="568.5" r="4.86"/>
<circle cx="82.5" cy="568.5" r="4.86"/>
<circle cx="85.5" cy="568.5" r="4.86"/>
<circle cx="87.5" cy="568.5" r="4.86"/>
<circle cx="89.5" cy="568.5" r="4.86"/>
<circle cx="91.5" cy="568.5" r="4.86"/>
<circle cx="94.5" cy="568.5" r="4.86"/>
<circle cx="96.5" cy="568.5" r="4.86"/>
<circle cx="98.5" cy="568.5" r="4.86"/>
<circle cx="100.5" cy="568.5" r="4.86"/>
<circle cx="103.5" cy="568.5" r="4.86"/>
<circle cx="105.5" cy="568.5" r="4.86"/>
<circle cx="107.5" cy="568.5" r="4.86"/>
<circle cx="109.5" cy="568.5" r="4.86"/>
<circle cx="111.5" cy="568.5" r="4.86"/>
<circle cx="114.5" cy="568.5" r="4.86"/>
<circle cx="116.5" cy="568.5" r="4.86"/>
<circle cx="118.5" cy="568.5" r="4.86"/>
<circle cx="120.5" cy="568.5" r="4.86"/>
<circle cx="123.5" cy="568.5" r="4.86"/>
<circle cx="125.5" cy="568.5" r="4.86"/>
<circle cx="127.5" cy="568.5" r="4.86"/>
<circle cx="129.5" cy="568.5" r="4.86"/>
<circle cx="132.5" cy="568.5" r="4.86"/>
<circle cx="134.5" cy="568.5" r="4.86"/>
<circle cx="136.5" cy="568.5" r="4.86"/>
<circle cx="138.5" cy="568.5" r="4.86"/>
<circle cx="141.5" cy="567.5" r="4.86"/>
<circle cx="143.5" cy="567.5" r="4.86"/>
<circle cx="145.5" cy="567.5" r="4.86"/>
<circle cx="147.5" cy="567.5" r="4.86"/>
<circle cx="150.5" cy="567.5" r="4.86"/>
<circle cx="152.5" cy="567.5" r="4.86"/>
<circle cx="154.5" cy="567.5" r="4.86"/>
<circle cx="156.5" cy="566.5" r="4.86"/>
<circle cx="159.5" cy="566.5" r="4.86"/>
<circle cx="161.5" cy="566.5" r="4.86"/>
<circle cx="163.5" cy="566.5" r="4.86"/>
<circle cx="165.5" cy="566.5" r="4.86"/>
<circle cx="168.5" cy="565.5" r="4.86"/>
<circle cx="170.5" cy="565.5" r="4.86"/>
<circle cx="172.5" cy="565.5" r="4.86"/>
<circle cx="174.5" cy="565.5" r="4.86"/>
<circle cx="177.5" cy="564.5" r="4.86"/>
<circle cx="179.5" cy="564.5" r="4.86"/>
<circle cx="181.5" cy="563.5" r="4.86"/>
<circle cx="183.5" cy="563.5" r="4.86"/>
<circle cx="186.5" cy="562.5" r="4.86"/>
<circle cx="188.5" cy="562.5" r="4.86"/>
<circle cx="190.5" cy="561.5" r="4.86"/>
<circle cx="192.5" cy="561.5" r="4.86"/>
<circle cx="195.5" cy="560.5" r="4.86"/>
<circle cx="197.5" cy="559.5" r="4.86"/>
<circle cx="199.5" cy="559.5" r="4.86"/>
<circle cx="201.5" cy="558.5" r="4.86"/>
<circle cx="204.5" cy="557.5" r="4.86"/>
<circle cx="206.5" cy="556.5" r="4.86"/>
<circle cx="208.5" cy="555.5" r="4.86"/>
<circle cx="210.5" cy="555.5" r="4.86"/>
<circle cx="212.5" cy="554.5" r="4.86"/>
<circle cx="215.5" cy="552.5" r="4.86"/>
<circle cx="217.5" cy="551.5" r="4.86"/>
<circle cx="219.5" cy="550.5" r="4.86"/>
<circle cx="221.5" cy="549.5" r="4.86"/>
<circle cx="224.5" cy="545.5" r="4.86"/>
<circle cx="226.5" cy="542.5" r="4.86"/>
<circle cx="228.5" cy="541.5" r="4.86"/>
<circle cx="230.5" cy="539.5" r="4.86"/>
<circle cx="233.5" cy="537.5" r="4.86"/>
<circle cx="235.5" cy="537.5" r="4.86"/>
<circle cx="237.5" cy="537.5" r="4.86"/>
<circle cx="239.5" cy="536.5" r="4.86"/>
<circle cx="242.5" cy="536.5" r="4.86"/>
<circle cx="244.5" cy="535.5" r="4.86"/>
<circle cx="246.5" cy="533.5" r="4.86"/>
<circle cx="248.5" cy="531.5" r="4.86"/>
<circle cx="251.5" cy="530.5" r="4.86"/>
<circle cx="253.5" cy="529.5" r="4.86"/>
<circle cx="255.5" cy="528.5" r="4.86"/>
<circle cx="257.5" cy="527.5" r="4.86"/>
<circle cx="260.5" cy="526.5" r="4.86"/>
<circle cx="262.5" cy="525.5" r="4.86"/>
<circle cx="264.5" cy="525.5" r="4.86"/>
<circle cx="266.5" cy="524.5" r="4.86"/>
<circle cx="269.5" cy="523.5" r="4.86"/>
<circle cx="271.5" cy="522.5" r="4.86"/>
<circle cx="273.5" cy="522.5" r="4.86"/>
<circle cx="275.5" cy="521.5" r="4.86"/>
<circle cx="278.5" cy="520.5" r="4.86"/>
<circle cx="280.5" cy="519.5" r="4.86"/>
<circle cx="282.5" cy="519.5" r="4.86"/>
<circle cx="284.5" cy="518.5" r="4.86"/>
<circle cx="287.5" cy="517.5" r="4.86"/>
<circle cx="289.5" cy="516.5" r="4.86"/>
<circle cx="291.5" cy="516.5" r="4.86"/>
<circle cx="293.5" cy="515.5" r="4.86"/>
<circle cx="296.5" cy="515.5" r="4.86"/>
<circle cx="298.5" cy="514.5" r="4.86"/>
<circle cx="300.5" cy="514.5" r="4.86"/>
<circle cx="302.5" cy="513.5" r="4.86"/>
<circle cx="305.5" cy="513.5" r="4.86"/>
<circle cx="307.5" cy="512.5" r="4.86"/>
<circle cx="309.5" cy="512.5" r="4.86"/>
<circle cx="311.5" cy="511.5" r="4.86"/>
<circle cx="313.5" cy="511.5" r="4.86"/>
<circle cx="316.5" cy="510.5" r="4.86"/>
<circle cx="318.5" cy="510.5" r="4.86"/>
<circle cx="320.5" cy="509.5" r="4.86"/>
<circle cx="322.5" cy="509.5" r="4.86"/>
<circle cx="325.5" cy="508.5" r="4.86"/>
<circle cx="327.5" cy="508.5" r="4.86"/>
<circle cx="329.5" cy="507.5" r="4.86"/>
<circle cx="331.5" cy="507.5" r="4.86"/>
<circle cx="334.5" cy="507.5" r="4.86"/>
<circle cx="336.5" cy="507.5" r="4.86"/>
<circle cx="338.5" cy="506.5" r="4.86"/>
<circle cx="340.5" cy="506.5" r="4.86"/>
<circle cx="343.5" cy="506.5" r="4.86"/>
<circle cx="345.5" cy="506.5" r="4.86"/>
<circle cx="347.5" cy="506.5" r="4.86"/>
<circle cx="349.5" cy="506.5" r="4.86"/>
<circle cx="352.5" cy="505.5" r="4.86"/>
<circle cx="354.5" cy="505.5" r="4.86"/>
<circle cx="356.5" cy="505.5" r="4.86"/>
<circle cx="358.5" cy="505.5" r="4.86"/>
<circle cx="361.5" cy="504.5" r="4.86"/>
<circle cx="363.5" cy="504.5" r="4.86"/>
<circle cx="365.5" cy="503.5" r="4.86"/>
<circle cx="367.5" cy="503.5" r="4.86"/>
<circle cx="370.5" cy="502.5" r="4.86"/>
<circle cx="372.5" cy="502.5" r="4.86"/>
<circle cx="374.5" cy="502.5" r="4.86"/>
<circle cx="376.5" cy="501.5" r="4.86"/>
<circle cx="379.5" cy="501.5" r="4.86"/>
<circle cx="381.5" cy="501.5" r="4.86"/>
<circle cx="383.5" cy="500.5" r="4.86"/>
<circle cx="385.5" cy="500.5" r="4.86"/>
<circle cx="388.5" cy="499.5" r="4.86"/>
<circle cx="390.5" cy="498.5" r="4.86"/>
<circle cx="392.5" cy="498.5" r="4.86"/>
<circle cx="394.5" cy="498.5" r="4.86"/>
<circle cx="397.5" cy="497.5" r="4.86"/>
<circle cx="399.5" cy="496.5" r="4.86"/>
<circle cx="401.5" cy="496.5" r="4.86"/>
<circle cx="403.5" cy="495.5" r="4.86"/>
<circle cx="406.5" cy="495.5" r="4.86"/>
<circle cx="408.5" cy="495.5" r="4.86"/>
<circle cx="410.5" cy="494.5" r="4.86"/>
<circle cx="412.5" cy="494.5" r="4.86"/>
<circle cx="414.5" cy="494.5" r="4.86"/>
<circle cx="417.5" cy="493.5" r="4.86"/>
<circle cx="419.5" cy="493.5" r="4.86"/>
<circle cx="421.5" cy="492.5" r="4.86"/>
<circle cx="423.5" cy="492.5" r="4.86"/>
<circle cx="426.5" cy="491.5" r="4.86"/>
<circle cx="428.5" cy="491.5" r="4.86"/>
<circle cx="430.5" cy="491.5" r="4.86"/>
<circle cx="432.5" cy="491.5" r="4.86"/>
<circle cx="435.5" cy="490.5" r="4.86"/>
<circle cx="437.5" cy="490.5" r="4.86"/>
<circle cx="439.5" cy="490.5" r="4.86"/>
<circle cx="441.5" cy="490.5" r="4.86"/>
<circle cx="444.5" cy="489.5" r="4.86"/>
<circle cx="446.5" cy="489.5" r="4.86"/>
<circle cx="448.5" cy="488.5" r="4.86"/>
<circle cx="450.5" cy="488.5" r="4.86"/>
<circle cx="453.5" cy="487.5" r="4.86"/>
<circle cx="455.5" cy="487.5" r="4.86"/>
<circle cx="457.5" cy="486.5" r="4.86"/>
<circle cx="459.5" cy="486.5" r="4.86"/>
<circle cx="462.5" cy="485.5" r="4.86"/>
<circle cx="464.5" cy="485.5" r="4.86"/>
<circle cx="466.5" cy="484.5" r="4.86"/>
<circle cx="468.5" cy="484.5" r="4.86"/>
<circle cx="471.5" cy="483.5" r="4.86"/>
<circle cx="473.5" cy="482.5" r="4.86"/>
<circle cx="475.5" cy="481.5" r="4.86"/>
<circle cx="477.5" cy="481.5" r="4.86"/>
<circle cx="480.5" cy="480.5" r="4.86"/>
<circle cx="482.5" cy="479.5" r="4.86"/>
<circle cx="484.5" cy="478.5" r="4.86"/>
<circle cx="486.5" cy="477.5" r="4.86"/>
<circle cx="489.5" cy="476.5" r="4.86"/>
<circle cx="491.5" cy="476.5" r="4.86"/>
<circle cx="493.5" cy="475.5" r="4.86"/>
<circle cx="495.5" cy="474.5" r="4.86"/>
<circle cx="498.5" cy="473.5" r="4.86"/>
<circle cx="500.5" cy="472.5" r="4.86"/>
<circle cx="502.5" cy="471.5" r="4.86"/>
<circle cx="504.5" cy="470.5" r="4.86"/>
<circle cx="507.5" cy="469.5" r="4.86"/>
<circle cx="509.5" cy="467.5" r="4.86"/>
<circle cx="511.5" cy="466.5" r="4.86"/>
<circle cx="513.5" cy="464.5" r="4.86"/>
<circle cx="515.5" cy="463.5" r="4.86"/>
<circle cx="518.5" cy="461.5" r="4.86"/>
<circle cx="520.5" cy="460.5" r="4.86"/>
<circle cx="522.5" cy="458.5" r="4.86"/>
<circle cx="524.5" cy="456.5" r="4.86"/>
<circle cx="527.5" cy="453.5" r="4.86"/>
<circle cx="529.5" cy="451.5" r="4.86"/>
<circle cx="531.5" cy="449.5" r="4.86"/>
<circle cx="533.5" cy="448.5" r="4.86"/>
<circle cx="536.5" cy="445.5" r="4.86"/>
<circle cx="538.5" cy="443.5" r="4.86"/>
<circle cx="540.5" cy="441.5" r="4.86"/>
<circle cx="542.5" cy="439.5" r="4.86"/>
<circle cx="545.5" cy="435.5" r="4.86"/>
<circle cx="547.5" cy="433.5" r="4.86"/>
<circle cx="549.5" cy="431.5" r="4.86"/>
<circle cx="551.5" cy="428.5" r="4.86"/>
<circle cx="554.5" cy="425.5" r="4.86"/>
<circle cx="556.5" cy="422.5" r="4.86"/>
<circle cx="558.5" cy="420.5" r="4.86"/>
<circle cx="560.5" cy="417.5" r="4.86"/>
<circle cx="563.5" cy="413.5" r="4.86"/>
<circle cx="565.5" cy="410.5" r="4.86"/>
<circle cx="567.5" cy="407.5" r="4.86"/>
<circle cx="569.5" cy="404.5" r="4.86"/>
<circle cx="572.5" cy="399.5" r="4.86"/>
<circle cx="574.5" cy="396.5" r="4.86"/>
<circle cx="576.5" cy="393.5" r="4.86"/>
<circle cx="578.5" cy="390.5" r="4.86"/>
<circle cx="581.5" cy="386.5" r="4.86"/>
<circle cx="583.5" cy="383.5" r="4.86"/>
<circle cx="585.5" cy="380.5" r="4.86"/>
<circle cx="587.5" cy="377.5" r="4.86"/>
<circle cx="590.5" cy="372.5" r="4.86"/>
<circle cx="592.5" cy="369.5" r="4.86"/>
<circle cx="594.5" cy="366.5" r="4.86"/>
<circle cx="596.5" cy="362.5" r="4.86"/>
<circle cx="599.5" cy="357.5" r="4.86"/>
<circle cx="601.5" cy="353.5" r="4.86"/>
<circle cx="603.5" cy="350.5" r="4.86"/>
<circle cx="605.5" cy="347.5" r="4.86"/>
<circle cx="608.5" cy="341.5" r="4.86"/>
<circle cx="610.5" cy="337.5" r="4.86"/>
<circle cx="612.5" cy="333.5" r="4.86"/>
<circle cx="614.5" cy="329.5" r="4.86"/>
<circle cx="617.5" cy="324.5" r="4.86"/>
<circle cx="619.5" cy="319.5" r="4.86"/>
<circle cx="621.5" cy="314.5" r="4.86"/>
<circle cx="623.5" cy="305.5" r="4.86"/>
<circle cx="625.5" cy="300.5" r="4.86"/>
<circle cx="628.5" cy="292.5" r="4.86"/>
<circle cx="630.5" cy="288.5" r="4.86"/>
<circle cx="632.5" cy="284.5" r="4.86"/>
<circle cx="634.5" cy="278.5" r="4.86"/>
<circle cx="637.5" cy="269.5" r="4.86"/>
<circle cx="639.5" cy="263.5" r="4.86"/>
<circle cx="641.5" cy="258.5" r="4.86"/>
<circle cx="643.5" cy="252.5" r="4.86"/>
<circle cx="646.5" cy="246.5" r="4.86"/>
<circle cx="648.5" cy="242.5" r="4.86"/>
<circle cx="650.5" cy="238.5" r="4.86"/>
<circle cx="652.5" cy="233.5" r="4.86"/>
<circle cx="655.5" cy="227.5" r="4.86"/>
<circle cx="657.5" cy="222.5" r="4.86"/>
<circle cx="659.5" cy="219.5" r="4.86"/>
<circle cx="661.5" cy="215.5" r="4.86"/>
<circle cx="664.5" cy="207.5" r="4.86"/>
<circle cx="666.5" cy="202.5" r="4.86"/>
<circle cx="668.5" cy="198.5" r="4.86"/>
<circle cx="670.5" cy="194.5" r="4.86"/>
<circle cx="673.5" cy="188.5" r="4.86"/>
<circle cx="675.5" cy="184.5" r="4.86"/>
<circle cx="677.5" cy="180.5" r="4.86"/>
<circle cx="679.5" cy="176.5" r="4.86"/>
<circle cx="682.5" cy="171.5" r="4.86"/>
<circle cx="684.5" cy="167.5" r="4.86"/>
<circle cx="686.5" cy="163.5" r="4.86"/>
<circle cx="688.5" cy="158.5" r="4.86"/>
<circle cx="691.5" cy="152.5" r="4.86"/>
<circle cx="693.5" cy="148.5" r="4.86"/>
<circle cx="695.5" cy="144.5" r="4.86"/>
<circle cx="697.5" cy="141.5" r="4.86"/>
<circle cx="700.5" cy="135.5" r="4.86"/>
<circle cx="702.5" cy="131.5" r="4.86"/>
<circle cx="704.5" cy="128.5" r="4.86"/>
<circle cx="706.5" cy="125.5" r="4.86"/>
<circle cx="709.5" cy="121.5" r="4.86"/>
<circle cx="711.5" cy="119.5" r="4.86"/>
<circle cx="713.5" cy="116.5" r="4.86"/>
<circle cx="715.5" cy="113.5" r="4.86"/>
<circle cx="718.5" cy="110.5" r="4.86"/>
<circle cx="720.5" cy="107.5" r="4.86"/>
<circle cx="722.5" cy="105.5" r="4.86"/>
<circle cx="724.5" cy="102.5" r="4.86"/>
<circle cx="726.5" cy="100.5" r="4.86"/>
<circle cx="729.5" cy="97.5" r="4.86"/>
<circle cx="731.5" cy="95.5" r="4.86"/>
<circle cx="733.5" cy="93.5" r="4.86"/>
<circle cx="735.5" cy="91.5" r="4.86"/>
<circle cx="738.5" cy="89.5" r="4.86"/>
<circle cx="740.5" cy="88.5" r="4.86"/>
<circle cx="742.5" cy="86.5" r="4.86"/>
<circle cx="744.5" cy="85.5" r="4.86"/>
<circle cx="747.5" cy="83.5" r="4.86"/>
<circle cx="749.5" cy="81.5" r="4.86"/>
<circle cx="751.5" cy="79.5" r="4.86"/>
<circle cx="753.5" cy="77.5" r="4.86"/>
<circle cx="756.5" cy="72.5" r="4.86"/>
<circle cx="758.5" cy="69.5" r="4.86"/>
<circle cx="760.5" cy="67.5" r="4.86"/>
<circle cx="762.5" cy="64.5" r="4.86"/>
<circle cx="765.5" cy="61.5" r="4.86"/>
<circle cx="767.5" cy="58.5" r="4.86"/>
<circle cx="769.5" cy="56.5" r="4.86"/>
<circle cx="771.5" cy="54.5" r="4.86"/>
<circle cx="774.5" cy="51.5" r="4.86"/>
<circle cx="776.5" cy="49.5" r="4.86"/>
<circle cx="778.5" cy="47.5" r="4.86"/>
<circle cx="780.5" cy="45.5" r="4.86"/>
<circle cx="783.5" cy="43.5" r="4.86"/>
</g>
<path d="M722 568V15" stroke="#1f77b4" stroke-opacity="0.5" stroke-width="2.08" stroke-dasharray="7.71 3.33" fill="none"/>
</g>
<rect x="69.5" y="15.5" width="716.0" height="553.0" fill="none" stroke="#000" stroke-width="1.11" stroke-linejoin="miter"/>
<path d="M69.5 568.5v5.0M785.5 568.5v5.0M132.5 568.5v5.0M199.5 568.5v5.0M269.5 568.5v5.0M336.5 568.5v5.0M406.5 568.5v5.0M475.5 568.5v5.0M542.5 568.5v5.0M612.5 568.5v5.0M679.5 568.5v5.0M749.5 568.5v5.0M69.5 568.5h-5.0M69.5 467.5h-5.0M69.5 366.5h-5.0M69.5 265.5h-5.0M69.5 164.5h-5.0M69.5 63.5h-5.0" stroke="#000" stroke-width="1.11" fill="none"/>
<path d="M80.5 568.5v2.92M96.5 568.5v2.92M111.5 568.5v2.92M127.5 568.5v2.92M143.5 568.5v2.92M159.5 568.5v2.92M174.5 568.5v2.92M190.5 568.5v2.92M206.5 568.5v2.92M221.5 568.5v2.92M237.5 568.5v2.92M253.5 568.5v2.92M284.5 568.5v2.92M300.5 568.5v2.92M316.5 568.5v2.92M331.5 568.5v2.92M347.5 568.5v2.92M363.5 568.5v2.92M379.5 568.5v2.92M394.5 568.5v2.92M410.5 568.5v2.92M426.5 568.5v2.92M441.5 568.5v2.92M457.5 568.5v2.92M473.5 568.5v2.92M489.5 568.5v2.92M504.5 568.5v2.92M520.5 568.5v2.92M536.5 568.5v2.92M551.5 568.5v2.92M567.5 568.5v2.92M583.5 568.5v2.92M599.5 568.5v2.92M614.5 568.5v2.92M630.5 568.5v2.92M646.5 568.5v2.92M661.5 568.5v2.92M677.5 568.5v2.92M693.5 568.5v2.92M709.5 568.5v2.92M724.5 568.5v2.92M740.5 568.5v2.92M756.5 568.5v2.92M771.5 568.5v2.92" stroke="#000" stroke-width="0.83" fill="none"/>
<g font-size="13.89">
<text x="50.88" y="573.5">0</text>
<text x="23.88" y="472.5" dx="0 -0.9 -0.15 -0.15">5000</text>
<text x="15.88" y="371.5" dx="0 -0.85 -0.1 -0.1 -0.1">10000</text>
<text x="15.88" y="269.5" dx="0 -0.75 -0.38 0.12 -0.25">15000</text>
<text x="14.88" y="168.5" dx="0 -0.05 -0.05 -0.05 -0.05">20000</text>
<text x="14.88" y="67.5" dx="0 -0.05 -0.05 -0.05 -0.05">25000</text>
</g>
<rect x="76.5" y="22.5" width="120" height="25" rx="2.78" ry="2.78" fill="#fff" fill-opacity="0.8" stroke="#ccc" stroke-opacity="0.8" stroke-width="1.39"/>
<path d="M79.96 34H110.04" stroke="#1f77b4" stroke-width="2.08" fill="none"/>
<text x="120.88" y="37.5" dx="0 -1.12 0.25 -0 -0 -0 -0 -0 -0" font-size="13.89">confirmed</text>
<clipPath id="c2"><rect x="69.5" y="592.5" width="716.0" height="553.0"/></clipPath>
<g clip-path="url(#c2)">
<path d="M68.84 1133.4 L71.08 1133.4 L73.33 1133.4 L75.57 1133.4 L77.82 1133.4 L80.06 1133.4 L82.31 1133.4 L84.55 1133.4 L86.8 1133.4 L89.04 1133.4 L91.29 1133.4 L93.53 1133.4 L95.77 1132.25 L98.02 1132.25 L100.26 1132.25 L102.51 1132.25 L104.75 1132.25 L107 1132.25 L109.24 1132.25 L111.49 1132.25 L113.73 1132.25 L115.97 1132.25 L118.22 1132.25 L120.46 1132.25 L122.71 1132.25 L124.95 1132.25 L127.2 1132.25 L129.44 1132.25 L131.69 1132.25 L133.93 1132.25 L136.18 1132.25 L138.42 1132.25 L140.66 1132.25 L142.91 1131.06 L145.15 1130.69 L147.4 1130.37 L149.64 1130.05 L151.89 1129.82 L154.13 1129.59 L156.38 1129.36 L158.62 1129.14 L160.87 1128.91 L163.11 1128.69 L165.35 1128.46 L167.6 1128.24 L169.84 1127.97 L172.09 1127.64 L174.33 1127.24 L176.58 1126.78 L178.82 1126.25 L181.07 1125.65 L183.31 1124.89 L185.55 1124.01 L187.8 1123.03 L190.04 1121.96 L192.29 1120.79 L194.53 1119.49 L196.78 1118.05 L199.02 1116.54 L201.27 1114.96 L203.51 1113.32 L205.76 1111.62 L208 1109.79 L210.24 1107.86 L212.49 1105.88 L214.73 1103.82 L216.98 1101.71 L219.22 1099.5 L221.47 1097.18 L223.71 1094.81 L225.96 1092.3 L228.2 1089.63 L230.45 1086.8 L232.69 1083.85 L234.93 1080.81 L237.18 1077.71 L239.42 1074.57 L241.67 1071.47 L243.91 1068.47 L246.16 1065.63 L248.4 1062.91 L250.65 1060.21 L252.89 1057.52 L255.13 1054.83 L257.38 1052.13 L259.62 1049.43 L261.87 1046.68 L264.11 1043.88 L266.36 1041.14 L268.6 1038.45 L270.85 1035.81 L273.09 1033.22 L275.34 1030.67 L277.58 1028.13 L279.82 1025.62 L282.07 1023.13 L284.31 1020.66 L286.56 1018.2 L288.8 1015.75 L291.05 1013.31 L293.29 1010.86 L295.54 1008.46 L297.78 1006.11 L300.02 1003.8 L302.27 1001.61 L304.51 999.52 L306.76 997.55 L309 995.7 L311.25 993.92 L313.49 992.23 L315.74 990.61 L317.98 989.03 L320.23 987.46 L322.47 985.93 L324.71 984.43 L326.96 982.94 L329.2 981.46 L331.45 979.99 L333.69 978.54 L335.94 977.1 L338.18 975.65 L340.43 974.21 L342.67 972.76 L344.92 971.33 L347.16 969.93 L349.4 968.55 L351.65 967.21 L353.89 965.91 L356.14 964.66 L358.38 963.45 L360.63 962.27 L362.87 961.1 L365.12 959.95 L367.36 958.82 L369.6 957.7 L371.85 956.58 L374.09 955.45 L376.34 954.3 L378.58 953.14 L380.83 951.97 L383.07 950.77 L385.32 949.57 L387.56 948.34 L389.81 947.11 L392.05 945.87 L394.29 944.64 L396.54 943.4 L398.78 942.17 L401.03 940.93 L403.27 939.7 L405.52 938.51 L407.76 937.38 L410.01 936.29 L412.25 935.24 L414.5 934.26 L416.74 933.33 L418.98 932.46 L421.23 931.61 L423.47 930.76 L425.72 929.93 L427.96 929.11 L430.21 928.3 L432.45 927.49 L434.7 926.67 L436.94 925.85 L439.18 925.03 L441.43 924.2 L443.67 923.37 L445.92 922.53 L448.16 921.69 L450.41 920.85 L452.65 920.01 L454.9 919.2 L457.14 918.44 L459.39 917.73 L461.63 917.07 L463.87 916.45 L466.12 915.89 L468.36 915.37 L470.61 914.86 L472.85 914.36 L475.1 913.85 L477.34 913.35 L479.59 912.84 L481.83 912.34 L484.08 911.82 L486.32 911.29 L488.56 910.72 L490.81 910.14 L493.05 909.53 L495.3 908.9 L497.54 908.24 L499.79 907.56 L502.03 906.89 L504.28 906.22 L506.52 905.54 L508.76 904.87 L511.01 904.2 L513.25 903.52 L515.5 902.84 L517.74 902.15 L519.99 901.44 L522.23 900.72 L524.48 900 L526.72 899.26 L528.97 898.5 L531.21 897.71 L533.45 896.89 L535.7 896.03 L537.94 895.15 L540.19 894.23 L542.43 893.28 L544.68 892.27 L546.92 891.21 L549.17 890.1 L551.41 888.93 L553.66 887.71 L555.9 886.44 L558.14 885.11 L560.39 883.8 L562.63 882.51 L564.88 881.17 L567.12 879.73 L569.37 878.19 L571.61 876.56 L573.86 874.83 L576.1 872.97 L578.34 870.99 L580.59 868.96 L582.83 866.92 L585.08 864.86 L587.32 862.8 L589.57 860.73 L591.81 858.64 L594.06 856.5 L596.3 854.22 L598.55 851.79 L600.79 849.23 L603.03 846.53 L605.28 843.7 L607.52 840.72 L609.77 837.65 L612.01 834.58 L614.26 831.52 L616.5 828.45 L618.75 825.38 L620.99 822.31 L623.23 819.25 L625.48 816.04 L627.72 812.7 L629.97 809.22 L632.21 805.59 L634.46 801.84 L636.7 797.98 L638.95 793.99 L641.19 790.03 L643.44 786.09 L645.68 782.16 L647.92 778.26 L650.17 774.25 L652.41 770.08 L654.66 765.76 L656.9 761.3 L659.15 756.68 L661.39 751.92 L663.64 747.01 L665.88 742.1 L668.13 737.24 L670.37 732.4 L672.61 727.6 L674.86 722.82 L677.1 718.08 L679.35 713.33 L681.59 708.5 L683.84 703.59 L686.08 698.59 L688.33 693.52 L690.57 688.29 L692.81 682.92 L695.06 677.43 L697.3 671.86 L699.55 666.21 L701.79 660.61 L704.04 655.13 L706.28 649.83 L708.53 644.92 L710.77 640.42 L713.02 636.36 L715.26 632.82 L717.5 629.67 L719.75 626.77 L721.99 624.09 L721.99 778.34 L719.75 781.46 L717.5 784.58 L715.26 787.68 L713.02 790.84 L710.77 794.19 L708.53 797.74 L706.28 801.48 L704.04 805.42 L701.79 809.56 L699.55 813.74 L697.3 817.89 L695.06 821.87 L692.81 825.68 L690.57 829.32 L688.33 832.78 L686.08 836.07 L683.84 839.31 L681.59 842.52 L679.35 845.69 L677.1 848.82 L674.86 851.89 L672.61 854.89 L670.37 857.82 L668.13 860.73 L665.88 863.67 L663.64 866.72 L661.39 869.9 L659.15 873.23 L656.9 876.72 L654.66 880.36 L652.41 884.15 L650.17 887.99 L647.92 891.75 L645.68 895.44 L643.44 899.05 L641.19 902.59 L638.95 906.06 L636.7 909.45 L634.46 912.77 L632.21 916.05 L629.97 919.29 L627.72 922.48 L625.48 925.64 L623.23 928.75 L620.99 931.78 L618.75 934.72 L616.5 937.56 L614.26 940.31 L612.01 942.96 L609.77 945.52 L607.52 947.98 L605.28 950.32 L603.03 952.59 L600.79 954.79 L598.55 956.91 L596.3 958.96 L594.06 960.93 L591.81 962.82 L589.57 964.63 L587.32 966.38 L585.08 968.06 L582.83 969.67 L580.59 971.22 L578.34 972.71 L576.1 974.12 L573.86 975.49 L571.61 976.82 L569.37 978.1 L567.12 979.33 L564.88 980.53 L562.63 981.68 L560.39 982.81 L558.14 983.93 L555.9 985.03 L553.66 986.1 L551.41 987.12 L549.17 988.1 L546.92 989.03 L544.68 989.92 L542.43 990.77 L540.19 991.55 L537.94 992.27 L535.7 992.92 L533.45 993.51 L531.21 994.03 L528.97 994.49 L526.72 994.88 L524.48 995.28 L522.23 995.69 L519.99 996.13 L517.74 996.59 L515.5 997.07 L513.25 997.57 L511.01 998.1 L508.76 998.62 L506.52 999.15 L504.28 999.67 L502.03 1000.19 L499.79 1000.72 L497.54 1001.24 L495.3 1001.76 L493.05 1002.28 L490.81 1002.79 L488.56 1003.29 L486.32 1003.79 L484.08 1004.28 L481.83 1004.77 L479.59 1005.26 L477.34 1005.74 L475.1 1006.23 L472.85 1006.72 L470.61 1007.2 L468.36 1007.69 L466.12 1008.17 L463.87 1008.65 L461.63 1009.13 L459.39 1009.6 L457.14 1010.06 L454.9 1010.52 L452.65 1010.97 L450.41 1011.42 L448.16 1011.87 L445.92 1012.35 L443.67 1012.92 L441.43 1013.57 L439.18 1014.32 L436.94 1015.15 L434.7 1016.08 L432.45 1017.09 L430.21 1018.15 L427.96 1019.22 L425.72 1020.27 L423.47 1021.3 L421.23 1022.31 L418.98 1023.29 L416.74 1024.25 L414.5 1025.19 L412.25 1026.12 L410.01 1027.03 L407.76 1027.95 L405.52 1028.87 L403.27 1029.8 L401.03 1030.74 L398.78 1031.67 L396.54 1032.61 L394.29 1033.54 L392.05 1034.48 L389.81 1035.41 L387.56 1036.35 L385.32 1037.27 L383.07 1038.17 L380.83 1039.05 L378.58 1039.91 L376.34 1040.74 L374.09 1041.56 L371.85 1042.35 L369.6 1043.14 L367.36 1043.92 L365.12 1044.73 L362.87 1045.55 L360.63 1046.4 L358.38 1047.28 L356.14 1048.18 L353.89 1049.1 L351.65 1050.05 L349.4 1051 L347.16 1051.96 L344.92 1052.92 L342.67 1053.89 L340.43 1054.86 L338.18 1055.85 L335.94 1056.84 L333.69 1057.84 L331.45 1058.85 L329.2 1059.86 L326.96 1060.87 L324.71 1061.9 L322.47 1062.96 L320.23 1064.04 L317.98 1065.14 L315.74 1066.27 L313.49 1067.42 L311.25 1068.6 L309 1069.77 L306.76 1070.95 L304.51 1072.23 L302.27 1073.62 L300.02 1075.11 L297.78 1076.7 L295.54 1078.39 L293.29 1080.17 L291.05 1082.04 L288.8 1083.89 L286.56 1085.72 L284.31 1087.54 L282.07 1089.34 L279.82 1091.1 L277.58 1092.79 L275.34 1094.44 L273.09 1096.02 L270.85 1097.56 L268.6 1099.04 L266.36 1100.48 L264.11 1101.92 L261.87 1103.39 L259.62 1104.88 L257.38 1106.39 L255.13 1107.92 L252.89 1109.48 L250.65 1111.06 L248.4 1112.68 L246.16 1114.33 L243.91 1116.02 L241.67 1117.73 L239.42 1119.48 L237.18 1121.26 L234.93 1123 L232.69 1124.68 L230.45 1126.24 L228.2 1127.64 L225.96 1128.88 L223.71 1129.96 L221.47 1130.88 L219.22 1131.69 L216.98 1132.44 L214.73 1133.18 L212.49 1133.95 L210.24 1134.75 L208 1135.58 L205.76 1136.43 L203.51 1137.29 L201.27 1138.11 L199.02 1138.89 L196.78 1139.65 L194.53 1140.37 L192.29 1141.13 L190.04 1141.95 L187.8 1142.78 L185.55 1143.51 L183.31 1144.14 L181.07 1144.68 L178.82 1145 L176.58 1145 L174.33 1145 L172.09 1145 L169.84 1145 L167.6 1145 L165.35 1145 L163.11 1145 L160.87 1145 L158.62 1145 L156.38 1145 L154.13 1145 L151.89 1145 L149.64 1145 L147.4 1145 L145.15 1145 L142.91 1145 L140.66 1145 L138.42 1145 L136.18 1145 L133.93 1145 L131.69 1145 L129.44 1145 L127.2 1145 L124.95 1145 L122.71 1145 L120.46 1145 L118.22 1145 L115.97 1145 L113.73 1145 L111.49 1145 L109.24 1145 L107 1145 L104.75 1145 L102.51 1145 L100.26 1145 L98.02 1145 L95.77 1145 L93.53 1145 L91.29 1145 L89.04 1145 L86.8 1145 L84.55 1145 L82.31 1145 L80.06 1145 L77.82 1145 L75.57 1145 L73.33 1145 L71.08 1145 L68.84 1145Z" fill="#1f77b4" fill-opacity="0.1" stroke="#1f77b4" stroke-opacity="0.1" stroke-width="1.39" stroke-linejoin="miter"/>
<path d="M68.84 1141.5 L71.08 1141.5 L73.33 1141.5 L75.57 1141.5 L77.82 1141.5 L80.06 1141.5 L82.31 1141.5 L84.55 1141.5 L86.8 1141.5 L89.04 1141.5 L91.29 1141.5 L93.53 1141.5 L95.77 1141.5 L98.02 1141.5 L100.26 1138.6 L102.51 1138.6 L104.75 1138.6 L107 1138.6 L109.24 1138.6 L111.49 1138.6 L113.73 1138.6 L115.97 1138.6 L118.22 1138.6 L120.46 1138.6 L122.71 1138.6 L124.95 1138.6 L127.2 1138.6 L129.44 1138.6 L131.69 1138.6 L133.93 1138.6 L136.18 1138.6 L138.42 1138.6 L140.66 1138.13 L142.91 1137.1 L145.15 1136.85 L147.4 1136.59 L149.64 1136.34 L151.89 1135.86 L154.13 1135.31 L156.38 1134.76 L158.62 1134.19 L160.87 1133.6 L163.11 1133 L165.35 1132.45 L167.6 1132.2 L169.84 1131.92 L172.09 1131.6 L174.33 1131.22 L176.58 1130.78 L178.82 1130.28 L181.07 1129.7 L183.31 1128.99 L185.55 1128.19 L187.8 1127.3 L190.04 1126.34 L192.29 1125.32 L194.53 1124.19 L196.78 1122.92 L199.02 1121.57 L201.27 1120.13 L203.51 1118.61 L205.76 1117.01 L208 1115.27 L210.24 1113.44 L212.49 1111.57 L214.73 1109.64 L216.98 1107.67 L219.22 1105.62 L221.47 1103.49 L223.71 1101.31 L225.96 1099.04 L228.2 1096.66 L230.45 1094.17 L232.69 1091.59 L234.93 1088.93 L237.18 1086.22 L239.42 1083.48 L241.67 1080.76 L243.91 1078.08 L246.16 1075.49 L248.4 1072.96 L250.65 1070.43 L252.89 1067.9 L255.13 1065.35 L257.38 1062.79 L259.62 1060.22 L261.87 1057.62 L264.11 1055 L266.36 1052.42 L268.6 1049.9 L270.85 1047.44 L273.09 1045.02 L275.34 1042.65 L277.58 1040.3 L279.82 1037.97 L282.07 1035.67 L284.31 1033.38 L286.56 1031.13 L288.8 1028.9 L291.05 1026.71 L293.29 1024.54 L295.54 1022.42 L297.78 1020.35 L300.02 1018.33 L302.27 1016.38 L304.51 1014.49 L306.76 1012.68 L309 1010.95 L311.25 1009.28 L313.49 1007.67 L315.74 1006.13 L317.98 1004.61 L320.23 1003.12 L322.47 1001.67 L324.71 1000.23 L326.96 998.81 L329.2 997.39 L331.45 995.97 L333.69 994.57 L335.94 993.18 L338.18 991.79 L340.43 990.41 L342.67 989.04 L344.92 987.7 L347.16 986.38 L349.4 985.09 L351.65 983.83 L353.89 982.59 L356.14 981.39 L358.38 980.21 L360.63 979.05 L362.87 977.9 L365.12 976.76 L367.36 975.64 L369.6 974.52 L371.85 973.41 L374.09 972.29 L376.34 971.17 L378.58 970.04 L380.83 968.9 L383.07 967.76 L385.32 966.62 L387.56 965.47 L389.81 964.33 L392.05 963.2 L394.29 962.07 L396.54 960.95 L398.78 959.83 L401.03 958.71 L403.27 957.59 L405.52 956.51 L407.76 955.46 L410.01 954.44 L412.25 953.45 L414.5 952.51 L416.74 951.6 L418.98 950.74 L421.23 949.88 L423.47 949.03 L425.72 948.19 L427.96 947.35 L430.21 946.52 L432.45 945.69 L434.7 944.87 L436.94 944.05 L439.18 943.25 L441.43 942.45 L443.67 941.66 L445.92 940.89 L448.16 940.12 L450.41 939.36 L452.65 938.59 L454.9 937.85 L457.14 937.14 L459.39 936.46 L461.63 935.81 L463.87 935.18 L466.12 934.59 L468.36 934.03 L470.61 933.47 L472.85 932.91 L475.1 932.36 L477.34 931.8 L479.59 931.25 L481.83 930.71 L484.08 930.16 L486.32 929.61 L488.56 929.06 L490.81 928.49 L493.05 927.91 L495.3 927.32 L497.54 926.72 L499.79 926.11 L502.03 925.49 L504.28 924.87 L506.52 924.25 L508.76 923.62 L511.01 922.98 L513.25 922.34 L515.5 921.68 L517.74 921 L519.99 920.32 L522.23 919.63 L524.48 918.94 L526.72 918.24 L528.97 917.51 L531.21 916.76 L533.45 915.99 L535.7 915.18 L537.94 914.35 L540.19 913.49 L542.43 912.61 L544.68 911.66 L546.92 910.63 L549.17 909.53 L551.41 908.36 L553.66 907.11 L555.9 905.78 L558.14 904.37 L560.39 902.96 L562.63 901.57 L564.88 900.14 L567.12 898.65 L569.37 897.1 L571.61 895.49 L573.86 893.82 L576.1 892.07 L578.34 890.24 L580.59 888.35 L582.83 886.42 L585.08 884.46 L587.32 882.45 L589.57 880.4 L591.81 878.32 L594.06 876.15 L596.3 873.88 L598.55 871.49 L600.79 868.99 L603.03 866.37 L605.28 863.64 L607.52 860.8 L609.77 857.86 L612.01 854.89 L614.26 851.88 L616.5 848.84 L618.75 845.76 L620.99 842.64 L623.23 839.49 L625.48 836.24 L627.72 832.91 L629.97 829.49 L632.21 825.99 L634.46 822.41 L636.7 818.76 L638.95 815.03 L641.19 811.29 L643.44 807.53 L645.68 803.76 L647.92 799.98 L650.17 796.09 L652.41 792.06 L654.66 787.92 L656.9 783.68 L659.15 779.32 L661.39 774.83 L663.64 770.22 L665.88 765.6 L668.13 760.99 L670.37 756.39 L672.61 751.8 L674.86 747.23 L677.1 742.71 L679.35 738.2 L681.59 733.65 L683.84 729.04 L686.08 724.39 L688.33 719.68 L690.57 714.87 L692.81 709.95 L695.06 704.96 L697.3 699.92 L699.55 694.83 L701.79 689.78 L704.04 684.84 L706.28 680.06 L708.53 675.56 L710.77 671.36 L713.02 667.46 L715.26 663.93 L717.5 660.68 L719.75 657.58 L721.99 654.62 L721.99 752.47 L719.75 755.7 L717.5 758.92 L715.26 762.14 L713.02 765.42 L710.77 768.87 L708.53 772.47 L706.28 776.25 L704.04 780.19 L701.79 784.29 L699.55 788.47 L697.3 792.62 L695.06 796.68 L692.81 800.61 L690.57 804.43 L688.33 808.13 L686.08 811.71 L683.84 815.26 L681.59 818.78 L679.35 822.27 L677.1 825.75 L674.86 829.2 L672.61 832.63 L670.37 836.02 L668.13 839.39 L665.88 842.76 L663.64 846.2 L661.39 849.71 L659.15 853.29 L656.9 856.93 L654.66 860.66 L652.41 864.47 L650.17 868.29 L647.92 872.03 L645.68 875.69 L643.44 879.27 L641.19 882.78 L638.95 886.21 L636.7 889.57 L634.46 892.89 L632.21 896.18 L629.97 899.44 L627.72 902.67 L625.48 905.88 L623.23 909.06 L620.99 912.19 L618.75 915.22 L616.5 918.15 L614.26 920.99 L612.01 923.73 L609.77 926.38 L607.52 928.93 L605.28 931.37 L603.03 933.74 L600.79 936.04 L598.55 938.26 L596.3 940.41 L594.06 942.48 L591.81 944.48 L589.57 946.39 L587.32 948.22 L585.08 949.98 L582.83 951.68 L580.59 953.29 L578.34 954.84 L576.1 956.31 L573.86 957.75 L571.61 959.16 L569.37 960.54 L567.12 961.9 L564.88 963.22 L562.63 964.52 L560.39 965.8 L558.14 967.08 L555.9 968.34 L553.66 969.52 L551.41 970.64 L549.17 971.7 L546.92 972.68 L544.68 973.6 L542.43 974.45 L540.19 975.23 L537.94 975.96 L535.7 976.65 L533.45 977.28 L531.21 977.87 L528.97 978.4 L526.72 978.89 L524.48 979.37 L522.23 979.87 L519.99 980.38 L517.74 980.91 L515.5 981.44 L513.25 981.98 L511.01 982.53 L508.76 983.08 L506.52 983.61 L504.28 984.14 L502.03 984.67 L499.79 985.19 L497.54 985.71 L495.3 986.23 L493.05 986.75 L490.81 987.26 L488.56 987.78 L486.32 988.29 L484.08 988.81 L481.83 989.34 L479.59 989.86 L477.34 990.4 L475.1 990.94 L472.85 991.48 L470.61 992.02 L468.36 992.56 L466.12 993.1 L463.87 993.63 L461.63 994.17 L459.39 994.69 L457.14 995.22 L454.9 995.74 L452.65 996.25 L450.41 996.77 L448.16 997.28 L445.92 997.82 L443.67 998.43 L441.43 999.1 L439.18 999.85 L436.94 1000.66 L434.7 1001.54 L432.45 1002.49 L430.21 1003.49 L427.96 1004.48 L425.72 1005.47 L423.47 1006.44 L421.23 1007.4 L418.98 1008.34 L416.74 1009.26 L414.5 1010.18 L412.25 1011.08 L410.01 1011.99 L407.76 1012.9 L405.52 1013.82 L403.27 1014.75 L401.03 1015.68 L398.78 1016.61 L396.54 1017.55 L394.29 1018.48 L392.05 1019.42 L389.81 1020.37 L387.56 1021.33 L385.32 1022.28 L383.07 1023.23 L380.83 1024.17 L378.58 1025.1 L376.34 1026.02 L374.09 1026.93 L371.85 1027.83 L369.6 1028.73 L367.36 1029.63 L365.12 1030.54 L362.87 1031.47 L360.63 1032.42 L358.38 1033.38 L356.14 1034.35 L353.89 1035.35 L351.65 1036.36 L349.4 1037.38 L347.16 1038.4 L344.92 1039.44 L342.67 1040.49 L340.43 1041.56 L338.18 1042.64 L335.94 1043.74 L333.69 1044.85 L331.45 1045.97 L329.2 1047.09 L326.96 1048.21 L324.71 1049.34 L322.47 1050.49 L320.23 1051.66 L317.98 1052.86 L315.74 1054.08 L313.49 1055.33 L311.25 1056.6 L309 1057.89 L306.76 1059.19 L304.51 1060.57 L302.27 1062.02 L300.02 1063.53 L297.78 1065.11 L295.54 1066.77 L293.29 1068.51 L291.05 1070.32 L288.8 1072.15 L286.56 1074 L284.31 1075.85 L282.07 1077.72 L279.82 1079.56 L277.58 1081.37 L275.34 1083.15 L273.09 1084.91 L270.85 1086.66 L268.6 1088.39 L266.36 1090.1 L264.11 1091.84 L261.87 1093.62 L259.62 1095.41 L257.38 1097.22 L255.13 1099.03 L252.89 1100.85 L250.65 1102.68 L248.4 1104.52 L246.16 1106.37 L243.91 1108.23 L241.67 1110.09 L239.42 1111.97 L237.18 1113.86 L234.93 1115.71 L232.69 1117.52 L230.45 1119.23 L228.2 1120.81 L225.96 1122.29 L223.71 1123.65 L221.47 1124.9 L219.22 1126.06 L216.98 1127.17 L214.73 1128.26 L212.49 1129.36 L210.24 1130.48 L208 1131.6 L205.76 1132.71 L203.51 1133.77 L201.27 1134.77 L199.02 1135.71 L196.78 1136.58 L194.53 1137.39 L192.29 1138.18 L190.04 1138.99 L187.8 1139.8 L185.55 1140.54 L183.31 1141.19 L181.07 1141.75 L178.82 1142.23 L176.58 1142.57 L174.33 1142.78 L172.09 1142.89 L169.84 1143 L167.6 1143.1 L165.35 1143.21 L163.11 1143.31 L160.87 1143.42 L158.62 1143.52 L156.38 1143.63 L154.13 1143.73 L151.89 1143.84 L149.64 1143.95 L147.4 1144.09 L145.15 1144.24 L142.91 1144.38 L140.66 1144.53 L138.42 1144.67 L136.18 1144.82 L133.93 1144.96 L131.69 1145 L129.44 1145 L127.2 1145 L124.95 1145 L122.71 1145 L120.46 1145 L118.22 1145 L115.97 1145 L113.73 1145 L111.49 1145 L109.24 1145 L107 1145 L104.75 1145 L102.51 1145 L100.26 1145 L98.02 1145 L95.77 1145 L93.53 1145 L91.29 1145 L89.04 1145 L86.8 1145 L84.55 1145 L82.31 1145 L80.06 1145 L77.82 1145 L75.57 1145 L73.33 1145 L71.08 1145 L68.84 1145Z" fill="#1f77b4" fill-opacity="0.1" stroke="#1f77b4" stroke-opacity="0.1" stroke-width="1.39" stroke-linejoin="miter"/>
<path d="M68.84 1142.5 L71.08 1142.5 L73.33 1142.5 L75.57 1142.5 L77.82 1142.5 L80.06 1142.5 L82.31 1142.5 L84.55 1142.5 L86.8 1142.5 L89.04 1142.5 L91.29 1142.5 L93.53 1142.5 L95.77 1142.5 L98.02 1142.5 L100.26 1142.5 L102.51 1142.5 L104.75 1142.5 L107 1142.5 L109.24 1142.5 L111.49 1142.5 L113.73 1142.5 L115.97 1142.5 L118.22 1142.5 L120.46 1142.5 L122.71 1142.5 L124.95 1142.5 L127.2 1142.5 L129.44 1142.5 L131.69 1142.5 L133.93 1142.5 L136.18 1142.5 L138.42 1142.5 L140.66 1142.3 L142.91 1141.63 L145.15 1140.95 L147.4 1140.28 L149.64 1139.61 L151.89 1138.98 L154.13 1138.36 L156.38 1137.71 L158.62 1137.06 L160.87 1136.39 L163.11 1135.7 L165.35 1135.07 L167.6 1134.8 L169.84 1134.51 L172.09 1134.2 L174.33 1133.84 L176.58 1133.42 L178.82 1132.93 L181.07 1132.36 L183.31 1131.7 L185.55 1130.94 L187.8 1130.11 L190.04 1129.22 L192.29 1128.29 L194.53 1127.28 L196.78 1126.13 L199.02 1124.88 L201.27 1123.54 L203.51 1122.1 L205.76 1120.56 L208 1118.88 L210.24 1117.11 L212.49 1115.31 L214.73 1113.47 L216.98 1111.59 L219.22 1109.65 L221.47 1107.64 L223.71 1105.59 L225.96 1103.48 L228.2 1101.29 L230.45 1099.02 L232.69 1096.68 L234.93 1094.27 L237.18 1091.83 L239.42 1089.35 L241.67 1086.87 L243.91 1084.4 L246.16 1081.97 L248.4 1079.57 L250.65 1077.15 L252.89 1074.72 L255.13 1072.28 L257.38 1069.81 L259.62 1067.32 L261.87 1064.81 L264.11 1062.3 L266.36 1059.85 L268.6 1057.44 L270.85 1055.09 L273.09 1052.78 L275.34 1050.53 L277.58 1048.3 L279.82 1046.11 L282.07 1043.92 L284.31 1041.75 L286.56 1039.63 L288.8 1037.56 L291.05 1035.52 L293.29 1033.53 L295.54 1031.6 L297.78 1029.72 L300.02 1027.89 L302.27 1026.09 L304.51 1024.34 L306.76 1022.63 L309 1020.98 L311.25 1019.38 L313.49 1017.83 L315.74 1016.33 L317.98 1014.87 L320.23 1013.43 L322.47 1012.03 L324.71 1010.63 L326.96 1009.25 L329.2 1007.87 L331.45 1006.49 L333.69 1005.12 L335.94 1003.76 L338.18 1002.41 L340.43 1001.08 L342.67 999.76 L344.92 998.47 L347.16 997.2 L349.4 995.97 L351.65 994.76 L353.89 993.56 L356.14 992.39 L358.38 991.24 L360.63 990.09 L362.87 988.96 L365.12 987.82 L367.36 986.7 L369.6 985.59 L371.85 984.48 L374.09 983.37 L376.34 982.26 L378.58 981.15 L380.83 980.04 L383.07 978.94 L385.32 977.84 L387.56 976.75 L389.81 975.66 L392.05 974.59 L394.29 973.53 L396.54 972.49 L398.78 971.45 L401.03 970.4 L403.27 969.36 L405.52 968.34 L407.76 967.35 L410.01 966.38 L412.25 965.44 L414.5 964.52 L416.74 963.62 L418.98 962.76 L421.23 961.9 L423.47 961.05 L425.72 960.2 L427.96 959.35 L430.21 958.51 L432.45 957.67 L434.7 956.84 L436.94 956.02 L439.18 955.23 L441.43 954.46 L443.67 953.7 L445.92 952.96 L448.16 952.25 L450.41 951.54 L452.65 950.82 L454.9 950.13 L457.14 949.45 L459.39 948.78 L461.63 948.14 L463.87 947.51 L466.12 946.9 L468.36 946.3 L470.61 945.71 L472.85 945.12 L475.1 944.53 L477.34 943.94 L479.59 943.36 L481.83 942.79 L484.08 942.23 L486.32 941.67 L488.56 941.12 L490.81 940.56 L493.05 940.01 L495.3 939.45 L497.54 938.88 L499.79 938.3 L502.03 937.73 L504.28 937.15 L506.52 936.56 L508.76 935.95 L511.01 935.34 L513.25 934.71 L515.5 934.07 L517.74 933.41 L519.99 932.75 L522.23 932.07 L524.48 931.4 L526.72 930.72 L528.97 930.02 L531.21 929.3 L533.45 928.55 L535.7 927.78 L537.94 926.98 L540.19 926.16 L542.43 925.32 L544.68 924.41 L546.92 923.41 L549.17 922.32 L551.41 921.14 L553.66 919.86 L555.9 918.5 L558.14 917.05 L560.39 915.57 L562.63 914.1 L564.88 912.62 L567.12 911.09 L569.37 909.54 L571.61 907.94 L573.86 906.31 L576.1 904.64 L578.34 902.91 L580.59 901.11 L582.83 899.26 L585.08 897.34 L587.32 895.37 L589.57 893.35 L591.81 891.26 L594.06 889.08 L596.3 886.81 L598.55 884.44 L600.79 881.98 L603.03 879.42 L605.28 876.77 L607.52 874.02 L609.77 871.16 L612.01 868.25 L614.26 865.28 L616.5 862.25 L618.75 859.16 L620.99 856.01 L623.23 852.8 L625.48 849.53 L627.72 846.2 L629.97 842.83 L632.21 839.41 L634.46 835.94 L636.7 832.43 L638.95 828.87 L641.19 825.27 L643.44 821.64 L645.68 817.97 L647.92 814.26 L650.17 810.45 L652.41 806.53 L654.66 802.5 L656.9 798.4 L659.15 794.22 L661.39 789.91 L663.64 785.49 L665.88 781.06 L668.13 776.62 L670.37 772.17 L672.61 767.72 L674.86 763.29 L677.1 758.92 L679.35 754.57 L681.59 750.2 L683.84 745.79 L686.08 741.36 L688.33 736.88 L690.57 732.35 L692.81 727.74 L695.06 723.08 L697.3 718.38 L699.55 713.66 L701.79 708.97 L704.04 704.39 L706.28 699.95 L708.53 695.72 L710.77 691.71 L713.02 687.93 L715.26 684.4 L717.5 681.08 L719.75 677.85 L721.99 674.7 L721.99 733.25 L719.75 736.56 L717.5 739.86 L715.26 743.16 L713.02 746.54 L710.77 750.05 L708.53 753.71 L706.28 757.5 L704.04 761.44 L701.79 765.53 L699.55 769.69 L697.3 773.86 L695.06 777.96 L692.81 781.99 L690.57 785.95 L688.33 789.82 L686.08 793.61 L683.84 797.39 L681.59 801.14 L679.35 804.88 L677.1 808.61 L674.86 812.34 L672.61 816.09 L670.37 819.83 L668.13 823.53 L665.88 827.23 L663.64 830.96 L661.39 834.72 L659.15 838.48 L656.9 842.24 L654.66 846.03 L652.41 849.86 L650.17 853.66 L647.92 857.38 L645.68 861.01 L643.44 864.57 L641.19 868.06 L638.95 871.47 L636.7 874.81 L634.46 878.12 L632.21 881.41 L629.97 884.69 L627.72 887.96 L625.48 891.21 L623.23 894.44 L620.99 897.63 L618.75 900.73 L616.5 903.73 L614.26 906.64 L612.01 909.45 L609.77 912.17 L607.52 914.79 L605.28 917.3 L603.03 919.74 L600.79 922.11 L598.55 924.4 L596.3 926.63 L594.06 928.78 L591.81 930.85 L589.57 932.83 L587.32 934.73 L585.08 936.56 L582.83 938.31 L580.59 939.98 L578.34 941.57 L576.1 943.08 L573.86 944.57 L571.61 946.04 L569.37 947.5 L567.12 948.94 L564.88 950.37 L562.63 951.78 L560.39 953.17 L558.14 954.57 L555.9 955.93 L553.66 957.21 L551.41 958.41 L549.17 959.51 L546.92 960.54 L544.68 961.47 L542.43 962.33 L540.19 963.11 L537.94 963.85 L535.7 964.56 L533.45 965.23 L531.21 965.86 L528.97 966.45 L526.72 967.01 L524.48 967.56 L522.23 968.12 L519.99 968.68 L517.74 969.25 L515.5 969.83 L513.25 970.4 L511.01 970.97 L508.76 971.53 L506.52 972.08 L504.28 972.61 L502.03 973.14 L499.79 973.66 L497.54 974.18 L495.3 974.7 L493.05 975.21 L490.81 975.73 L488.56 976.25 L486.32 976.78 L484.08 977.32 L481.83 977.87 L479.59 978.43 L477.34 979 L475.1 979.58 L472.85 980.16 L470.61 980.74 L468.36 981.32 L466.12 981.9 L463.87 982.48 L461.63 983.05 L459.39 983.62 L457.14 984.19 L454.9 984.76 L452.65 985.32 L450.41 985.88 L448.16 986.45 L445.92 987.03 L443.67 987.66 L441.43 988.35 L439.18 989.1 L436.94 989.9 L434.7 990.75 L432.45 991.65 L430.21 992.59 L427.96 993.53 L425.72 994.47 L423.47 995.4 L421.23 996.32 L418.98 997.22 L416.74 998.12 L414.5 999.02 L412.25 999.92 L410.01 1000.82 L407.76 1001.72 L405.52 1002.64 L403.27 1003.56 L401.03 1004.49 L398.78 1005.42 L396.54 1006.36 L394.29 1007.29 L392.05 1008.24 L389.81 1009.2 L387.56 1010.17 L385.32 1011.15 L383.07 1012.13 L380.83 1013.12 L378.58 1014.1 L376.34 1015.09 L374.09 1016.07 L371.85 1017.04 L369.6 1018.02 L367.36 1019.01 L365.12 1020 L362.87 1021.01 L360.63 1022.02 L358.38 1023.05 L356.14 1024.09 L353.89 1025.13 L351.65 1026.19 L349.4 1027.25 L347.16 1028.33 L344.92 1029.43 L342.67 1030.54 L340.43 1031.68 L338.18 1032.84 L335.94 1034.01 L333.69 1035.2 L331.45 1036.4 L329.2 1037.6 L326.96 1038.81 L324.71 1040.02 L322.47 1041.24 L320.23 1042.47 L317.98 1043.73 L315.74 1045.02 L313.49 1046.34 L311.25 1047.69 L309 1049.07 L306.76 1050.46 L304.51 1051.91 L302.27 1053.4 L300.02 1054.93 L297.78 1056.51 L295.54 1058.14 L293.29 1059.84 L291.05 1061.62 L288.8 1063.44 L286.56 1065.28 L284.31 1067.17 L282.07 1069.08 L279.82 1070.99 L277.58 1072.88 L275.34 1074.76 L273.09 1076.66 L270.85 1078.56 L268.6 1080.47 L266.36 1082.39 L264.11 1084.35 L261.87 1086.35 L259.62 1088.38 L257.38 1090.41 L255.13 1092.43 L252.89 1094.44 L250.65 1096.45 L248.4 1098.45 L246.16 1100.45 L243.91 1102.44 L241.67 1104.42 L239.42 1106.39 L237.18 1108.36 L234.93 1110.3 L232.69 1112.19 L230.45 1114.01 L228.2 1115.74 L225.96 1117.39 L223.71 1118.96 L221.47 1120.45 L219.22 1121.88 L216.98 1123.26 L214.73 1124.61 L212.49 1125.96 L210.24 1127.31 L208 1128.65 L205.76 1129.95 L203.51 1131.16 L201.27 1132.29 L199.02 1133.34 L196.78 1134.3 L194.53 1135.17 L192.29 1135.99 L190.04 1136.79 L187.8 1137.59 L185.55 1138.33 L183.31 1138.99 L181.07 1139.57 L178.82 1140.08 L176.58 1140.47 L174.33 1140.76 L172.09 1140.96 L169.84 1141.14 L167.6 1141.32 L165.35 1141.51 L163.11 1141.69 L160.87 1141.87 L158.62 1142.05 L156.38 1142.24 L154.13 1142.42 L151.89 1142.61 L149.64 1142.8 L147.4 1143.05 L145.15 1143.3 L142.91 1143.55 L140.66 1143.8 L138.42 1144.06 L136.18 1144.31 L133.93 1144.56 L131.69 1144.81 L129.44 1144.9 L127.2 1144.92 L124.95 1144.93 L122.71 1144.95 L120.46 1144.96 L118.22 1144.98 L115.97 1144.99 L113.73 1145 L111.49 1145 L109.24 1145 L107 1145 L104.75 1145 L102.51 1145 L100.26 1145 L98.02 1145 L95.77 1145 L93.53 1145 L91.29 1145 L89.04 1145 L86.8 1145 L84.55 1145 L82.31 1145 L80.06 1145 L77.82 1145 L75.57 1145 L73.33 1145 L71.08 1145 L68.84 1145Z" fill="#1f77b4" fill-opacity="0.1" stroke="#1f77b4" stroke-opacity="0.1" stroke-width="1.39" stroke-linejoin="miter"/>
<path d="M724.24 700.9 L726.48 695.29 L728.73 689.78 L730.97 684.37 L733.22 679.05 L735.46 673.84 L737.71 668.92 L739.95 664.2 L742.19 659.69 L744.44 655.37 L746.68 651.25 L748.93 647.13 L751.17 643.04 L753.42 639.02 L755.66 635.08 L757.91 631.21 L760.15 627.42 L762.39 623.68 L764.64 619.93 L766.88 616.32 L769.13 612.92 L771.37 609.74 L773.62 606.76 L775.86 604 L778.11 601.32 L780.35 598.65 L782.6 595.97 L784.84 593.29 L784.84 679.52 L782.6 680.42 L780.35 681.33 L778.11 682.23 L775.86 683.14 L773.62 684.04 L771.37 684.94 L769.13 685.85 L766.88 686.75 L764.64 687.64 L762.39 688.54 L760.15 689.44 L757.91 690.39 L755.66 691.42 L753.42 692.52 L751.17 693.69 L748.93 694.94 L746.68 696.21 L744.44 697.49 L742.19 698.85 L739.95 700.3 L737.71 701.83 L735.46 703.46 L733.22 705.1 L730.97 706.52 L728.73 707.73 L726.48 708.74 L724.24 709.53Z" fill="#1f77b4" fill-opacity="0.1" stroke="#1f77b4" stroke-opacity="0.1" stroke-width="1.39"/>
<path d="M724.24 702.71 L726.48 697.89 L728.73 693.13 L730.97 688.45 L733.22 683.89 L735.46 679.44 L737.71 675.24 L739.95 671.22 L742.19 667.37 L744.44 663.64 L746.68 660.02 L748.93 656.37 L751.17 652.74 L753.42 649.21 L755.66 645.79 L757.91 642.48 L760.15 639.3 L762.39 636.2 L764.64 633.1 L766.88 630.12 L769.13 627.33 L771.37 624.74 L773.62 622.34 L775.86 620.13 L778.11 618 L780.35 615.87 L782.6 613.74 L784.84 611.61 L784.84 669.35 L782.6 670.32 L780.35 671.29 L778.11 672.25 L775.86 673.22 L773.62 674.21 L771.37 675.24 L769.13 676.32 L766.88 677.45 L764.64 678.62 L762.39 679.82 L760.15 681.02 L757.91 682.3 L755.66 683.69 L753.42 685.2 L751.17 686.81 L748.93 688.52 L746.68 690.24 L744.44 691.94 L742.19 693.69 L739.95 695.49 L737.71 697.38 L735.46 699.38 L733.22 701.43 L730.97 703.38 L728.73 705.22 L726.48 706.93 L724.24 708.48Z" fill="#1f77b4" fill-opacity="0.1" stroke="#1f77b4" stroke-opacity="0.1" stroke-width="1.39"/>
<path d="M724.24 704.56 L726.48 700.56 L728.73 696.58 L730.97 692.66 L733.22 688.86 L735.46 685.21 L737.71 681.74 L739.95 678.44 L742.19 675.28 L744.44 672.15 L746.68 669.04 L748.93 665.88 L751.17 662.72 L753.42 659.69 L755.66 656.8 L757.91 654.08 L760.15 651.52 L762.39 649.09 L764.64 646.65 L766.88 644.31 L769.13 642.15 L771.37 640.17 L773.62 638.36 L775.86 636.72 L778.11 635.15 L780.35 633.59 L782.6 632.02 L784.84 630.45 L784.84 660.88 L782.6 661.9 L780.35 662.92 L778.11 663.94 L775.86 664.96 L773.62 666.01 L771.37 667.15 L769.13 668.38 L766.88 669.7 L764.64 671.1 L762.39 672.55 L760.15 674 L757.91 675.56 L755.66 677.26 L753.42 679.1 L751.17 681.08 L748.93 683.17 L746.68 685.26 L744.44 687.33 L742.19 689.39 L739.95 691.48 L737.71 693.66 L735.46 695.97 L733.22 698.37 L730.97 700.76 L728.73 703.13 L726.48 705.42 L724.24 707.62Z" fill="#1f77b4" fill-opacity="0.1" stroke="#1f77b4" stroke-opacity="0.1" stroke-width="1.39"/>
</g>
<path d="M68.84 1081.5H784.84M68.84 1016.5H784.84M68.84 952.5H784.84M68.84 887.5H784.84M68.84 823.5H784.84M68.84 758.5H784.84M68.84 694.5H784.84M68.84 629.5H784.84" stroke="#b0b0b0" stroke-width="1.11" fill="none"/>
<g clip-path="url(#c2)">
<path d="M68.84 1145.2 L71.08 1145.18 L73.33 1145.16 L75.57 1145.13 L77.82 1145.11 L80.06 1145.08 L82.31 1145.05 L84.55 1145.03 L86.8 1145 L89.04 1144.98 L91.29 1144.95 L93.53 1144.93 L95.77 1144.9 L98.02 1144.88 L100.26 1144.85 L102.51 1144.82 L104.75 1144.8 L107 1144.77 L109.24 1144.75 L111.49 1144.72 L113.73 1144.7 L115.97 1144.67 L118.22 1144.65 L120.46 1144.62 L122.71 1144.59 L124.95 1144.57 L127.2 1144.54 L129.44 1144.52 L131.69 1144.37 L133.93 1143.96 L136.18 1143.55 L138.42 1143.13 L140.66 1142.72 L142.91 1142.31 L145.15 1141.89 L147.4 1141.48 L149.64 1141.07 L151.89 1140.76 L154.13 1140.46 L156.38 1140.15 L158.62 1139.85 L160.87 1139.55 L163.11 1139.25 L165.35 1138.95 L167.6 1138.65 L169.84 1138.35 L172.09 1138.05 L174.33 1137.72 L176.58 1137.32 L178.82 1136.85 L181.07 1136.31 L183.31 1135.7 L185.55 1135.02 L187.8 1134.27 L190.04 1133.48 L192.29 1132.7 L194.53 1131.85 L196.78 1130.88 L199.02 1129.79 L201.27 1128.58 L203.51 1127.25 L205.76 1125.8 L208 1124.21 L210.24 1122.55 L212.49 1120.85 L214.73 1119.14 L216.98 1117.39 L219.22 1115.61 L221.47 1113.78 L223.71 1111.92 L225.96 1110.04 L228.2 1108.13 L230.45 1106.19 L232.69 1104.21 L234.93 1102.18 L237.18 1100.12 L239.42 1098.03 L241.67 1095.91 L243.91 1093.76 L246.16 1091.57 L248.4 1089.35 L250.65 1087.1 L252.89 1084.83 L255.13 1082.52 L257.38 1080.19 L259.62 1077.83 L261.87 1075.46 L264.11 1073.12 L266.36 1070.83 L268.6 1068.6 L270.85 1066.41 L273.09 1064.27 L275.34 1062.19 L277.58 1060.15 L279.82 1058.14 L282.07 1056.12 L284.31 1054.14 L286.56 1052.22 L288.8 1050.36 L291.05 1048.57 L293.29 1046.85 L295.54 1045.19 L297.78 1043.59 L300.02 1042.04 L302.27 1040.48 L304.51 1038.92 L306.76 1037.36 L309 1035.83 L311.25 1034.33 L313.49 1032.87 L315.74 1031.44 L317.98 1030.04 L320.23 1028.68 L322.47 1027.35 L324.71 1026.03 L326.96 1024.7 L329.2 1023.37 L331.45 1022.05 L333.69 1020.73 L335.94 1019.42 L338.18 1018.13 L340.43 1016.86 L342.67 1015.62 L344.92 1014.41 L347.16 1013.23 L349.4 1012.07 L351.65 1010.93 L353.89 1009.8 L356.14 1008.68 L358.38 1007.56 L360.63 1006.44 L362.87 1005.31 L365.12 1004.19 L367.36 1003.08 L369.6 1001.97 L371.85 1000.86 L374.09 999.77 L376.34 998.68 L378.58 997.61 L380.83 996.53 L383.07 995.48 L385.32 994.44 L387.56 993.43 L389.81 992.43 L392.05 991.46 L394.29 990.5 L396.54 989.57 L398.78 988.64 L401.03 987.71 L403.27 986.78 L405.52 985.86 L407.76 984.96 L410.01 984.06 L412.25 983.17 L414.5 982.29 L416.74 981.42 L418.98 980.56 L421.23 979.7 L423.47 978.84 L425.72 977.97 L427.96 977.11 L430.21 976.25 L432.45 975.39 L434.7 974.55 L436.94 973.75 L439.18 972.97 L441.43 972.23 L443.67 971.52 L445.92 970.84 L448.16 970.19 L450.41 969.56 L452.65 968.92 L454.9 968.29 L457.14 967.66 L459.39 967.02 L461.63 966.38 L463.87 965.75 L466.12 965.11 L468.36 964.47 L470.61 963.83 L472.85 963.18 L475.1 962.54 L477.34 961.9 L479.59 961.28 L481.83 960.67 L484.08 960.09 L486.32 959.52 L488.56 958.96 L490.81 958.43 L493.05 957.91 L495.3 957.39 L497.54 956.87 L499.79 956.36 L502.03 955.84 L504.28 955.31 L506.52 954.77 L508.76 954.21 L511.01 953.63 L513.25 953.03 L515.5 952.41 L517.74 951.78 L519.99 951.13 L522.23 950.49 L524.48 949.84 L526.72 949.2 L528.97 948.53 L531.21 947.85 L533.45 947.15 L535.7 946.42 L537.94 945.68 L540.19 944.92 L542.43 944.14 L544.68 943.28 L546.92 942.32 L549.17 941.24 L551.41 940.05 L553.66 938.74 L555.9 937.33 L558.14 935.8 L560.39 934.23 L562.63 932.66 L564.88 931.09 L567.12 929.51 L569.37 927.94 L571.61 926.37 L573.86 924.8 L576.1 923.23 L578.34 921.66 L580.59 920 L582.83 918.25 L585.08 916.42 L587.32 914.5 L589.57 912.5 L591.81 910.42 L594.06 908.22 L596.3 905.96 L598.55 903.62 L600.79 901.21 L603.03 898.74 L605.28 896.19 L607.52 893.57 L609.77 890.85 L612.01 888.03 L614.26 885.11 L616.5 882.1 L618.75 879 L620.99 875.8 L623.23 872.51 L625.48 869.19 L627.72 865.88 L629.97 862.57 L632.21 859.27 L634.46 855.97 L636.7 852.67 L638.95 849.36 L641.19 845.97 L643.44 842.52 L645.68 839 L647.92 835.41 L650.17 831.72 L652.41 827.93 L654.66 824.08 L656.9 820.2 L659.15 816.26 L661.39 812.22 L663.64 808.09 L665.88 803.93 L668.13 799.75 L670.37 795.53 L672.61 791.29 L674.86 787.06 L677.1 782.9 L679.35 778.79 L681.59 774.69 L683.84 770.58 L686.08 766.47 L688.33 762.35 L690.57 758.22 L692.81 754.07 L695.06 749.89 L697.3 745.71 L699.55 741.53 L701.79 737.37 L704.04 733.32 L706.28 729.38 L708.53 725.55 L710.77 721.83 L713.02 718.21 L715.26 714.69 L717.5 711.27 L719.75 707.85 L721.99 704.42" fill="none" stroke="#1f77b4" stroke-width="2.08" stroke-linejoin="round" stroke-linecap="square"/>
<path d="M724.24 706.06 L726.48 702.71 L728.73 699.36 L730.97 696.04 L733.22 692.87 L735.46 689.85 L737.71 686.98 L739.95 684.26 L742.19 681.65 L744.44 679.01 L746.68 676.3 L748.93 673.54 L751.17 670.76 L753.42 668.13 L755.66 665.67 L757.91 663.42 L760.15 661.37 L762.39 659.46 L764.64 657.56 L766.88 655.75 L769.13 654.09 L771.37 652.6 L773.62 651.26 L775.86 650.09 L778.11 648.97 L780.35 647.86 L782.6 646.74 L784.84 645.63" fill="none" stroke="#1f77b4" stroke-width="2.08" stroke-linejoin="round" stroke-linecap="square"/>
<g fill="#ff7f0e">
<circle cx="69.5" cy="1145.5" r="4.86"/>
<circle cx="71.5" cy="1145.5" r="4.86"/>
<circle cx="73.5" cy="1145.5" r="4.86"/>
<circle cx="76.5" cy="1145.5" r="4.86"/>
<circle cx="78.5" cy="1145.5" r="4.86"/>
<circle cx="80.5" cy="1145.5" r="4.86"/>
<circle cx="82.5" cy="1145.5" r="4.86"/>
<circle cx="85.5" cy="1145.5" r="4.86"/>
<circle cx="87.5" cy="1145.5" r="4.86"/>
<circle cx="89.5" cy="1145.5" r="4.86"/>
<circle cx="91.5" cy="1145.5" r="4.86"/>
<circle cx="94.5" cy="1145.5" r="4.86"/>
<circle cx="96.5" cy="1145.5" r="4.86"/>
<circle cx="98.5" cy="1145.5" r="4.86"/>
<circle cx="100.5" cy="1145.5" r="4.86"/>
<circle cx="103.5" cy="1145.5" r="4.86"/>
<circle cx="105.5" cy="1145.5" r="4.86"/>
<circle cx="107.5" cy="1145.5" r="4.86"/>
<circle cx="109.5" cy="1145.5" r="4.86"/>
<circle cx="111.5" cy="1145.5" r="4.86"/>
<circle cx="114.5" cy="1145.5" r="4.86"/>
<circle cx="116.5" cy="1145.5" r="4.86"/>
<circle cx="118.5" cy="1145.5" r="4.86"/>
<circle cx="120.5" cy="1145.5" r="4.86"/>
<circle cx="123.5" cy="1145.5" r="4.86"/>
<circle cx="125.5" cy="1145.5" r="4.86"/>
<circle cx="127.5" cy="1145.5" r="4.86"/>
<circle cx="129.5" cy="1145.5" r="4.86"/>
<circle cx="132.5" cy="1144.5" r="4.86"/>
<circle cx="134.5" cy="1144.5" r="4.86"/>
<circle cx="136.5" cy="1144.5" r="4.86"/>
<circle cx="138.5" cy="1144.5" r="4.86"/>
<circle cx="141.5" cy="1144.5" r="4.86"/>
<circle cx="143.5" cy="1141.5" r="4.86"/>
<circle cx="145.5" cy="1141.5" r="4.86"/>
<circle cx="147.5" cy="1141.5" r="4.86"/>
<circle cx="150.5" cy="1141.5" r="4.86"/>
<circle cx="152.5" cy="1141.5" r="4.86"/>
<circle cx="154.5" cy="1140.5" r="4.86"/>
<circle cx="156.5" cy="1140.5" r="4.86"/>
<circle cx="159.5" cy="1140.5" r="4.86"/>
<circle cx="161.5" cy="1140.5" r="4.86"/>
<circle cx="163.5" cy="1140.5" r="4.86"/>
<circle cx="165.5" cy="1140.5" r="4.86"/>
<circle cx="168.5" cy="1140.5" r="4.86"/>
<circle cx="170.5" cy="1140.5" r="4.86"/>
<circle cx="172.5" cy="1140.5" r="4.86"/>
<circle cx="174.5" cy="1140.5" r="4.86"/>
<circle cx="177.5" cy="1140.5" r="4.86"/>
<circle cx="179.5" cy="1136.5" r="4.86"/>
<circle cx="181.5" cy="1136.5" r="4.86"/>
<circle cx="183.5" cy="1136.5" r="4.86"/>
<circle cx="186.5" cy="1136.5" r="4.86"/>
<circle cx="188.5" cy="1136.5" r="4.86"/>
<circle cx="190.5" cy="1136.5" r="4.86"/>
<circle cx="192.5" cy="1132.5" r="4.86"/>
<circle cx="195.5" cy="1132.5" r="4.86"/>
<circle cx="197.5" cy="1132.5" r="4.86"/>
<circle cx="199.5" cy="1132.5" r="4.86"/>
<circle cx="201.5" cy="1132.5" r="4.86"/>
<circle cx="204.5" cy="1126.5" r="4.86"/>
<circle cx="206.5" cy="1123.5" r="4.86"/>
<circle cx="208.5" cy="1122.5" r="4.86"/>
<circle cx="210.5" cy="1119.5" r="4.86"/>
<circle cx="212.5" cy="1118.5" r="4.86"/>
<circle cx="215.5" cy="1117.5" r="4.86"/>
<circle cx="217.5" cy="1115.5" r="4.86"/>
<circle cx="219.5" cy="1114.5" r="4.86"/>
<circle cx="221.5" cy="1111.5" r="4.86"/>
<circle cx="224.5" cy="1110.5" r="4.86"/>
<circle cx="226.5" cy="1102.5" r="4.86"/>
<circle cx="228.5" cy="1101.5" r="4.86"/>
<circle cx="230.5" cy="1100.5" r="4.86"/>
<circle cx="233.5" cy="1099.5" r="4.86"/>
<circle cx="235.5" cy="1099.5" r="4.86"/>
<circle cx="237.5" cy="1097.5" r="4.86"/>
<circle cx="239.5" cy="1093.5" r="4.86"/>
<circle cx="242.5" cy="1090.5" r="4.86"/>
<circle cx="244.5" cy="1084.5" r="4.86"/>
<circle cx="246.5" cy="1083.5" r="4.86"/>
<circle cx="248.5" cy="1082.5" r="4.86"/>
<circle cx="251.5" cy="1079.5" r="4.86"/>
<circle cx="253.5" cy="1078.5" r="4.86"/>
<circle cx="255.5" cy="1077.5" r="4.86"/>
<circle cx="257.5" cy="1075.5" r="4.86"/>
<circle cx="260.5" cy="1075.5" r="4.86"/>
<circle cx="262.5" cy="1074.5" r="4.86"/>
<circle cx="264.5" cy="1073.5" r="4.86"/>
<circle cx="266.5" cy="1073.5" r="4.86"/>
<circle cx="269.5" cy="1073.5" r="4.86"/>
<circle cx="271.5" cy="1073.5" r="4.86"/>
<circle cx="273.5" cy="1070.5" r="4.86"/>
<circle cx="275.5" cy="1066.5" r="4.86"/>
<circle cx="278.5" cy="1061.5" r="4.86"/>
<circle cx="280.5" cy="1056.5" r="4.86"/>
<circle cx="282.5" cy="1055.5" r="4.86"/>
<circle cx="284.5" cy="1053.5" r="4.86"/>
<circle cx="287.5" cy="1052.5" r="4.86"/>
<circle cx="289.5" cy="1048.5" r="4.86"/>
<circle cx="291.5" cy="1044.5" r="4.86"/>
<circle cx="293.5" cy="1043.5" r="4.86"/>
<circle cx="296.5" cy="1043.5" r="4.86"/>
<circle cx="298.5" cy="1043.5" r="4.86"/>
<circle cx="300.5" cy="1042.5" r="4.86"/>
<circle cx="302.5" cy="1042.5" r="4.86"/>
<circle cx="305.5" cy="1042.5" r="4.86"/>
<circle cx="307.5" cy="1041.5" r="4.86"/>
<circle cx="309.5" cy="1041.5" r="4.86"/>
<circle cx="311.5" cy="1039.5" r="4.86"/>
<circle cx="313.5" cy="1038.5" r="4.86"/>
<circle cx="316.5" cy="1038.5" r="4.86"/>
<circle cx="318.5" cy="1037.5" r="4.86"/>
<circle cx="320.5" cy="1032.5" r="4.86"/>
<circle cx="322.5" cy="1029.5" r="4.86"/>
<circle cx="325.5" cy="1028.5" r="4.86"/>
<circle cx="327.5" cy="1026.5" r="4.86"/>
<circle cx="329.5" cy="1025.5" r="4.86"/>
<circle cx="331.5" cy="1024.5" r="4.86"/>
<circle cx="334.5" cy="1022.5" r="4.86"/>
<circle cx="336.5" cy="1021.5" r="4.86"/>
<circle cx="338.5" cy="1020.5" r="4.86"/>
<circle cx="340.5" cy="1020.5" r="4.86"/>
<circle cx="343.5" cy="1020.5" r="4.86"/>
<circle cx="345.5" cy="1020.5" r="4.86"/>
<circle cx="347.5" cy="1020.5" r="4.86"/>
<circle cx="349.5" cy="1017.5" r="4.86"/>
<circle cx="352.5" cy="1015.5" r="4.86"/>
<circle cx="354.5" cy="1012.5" r="4.86"/>
<circle cx="356.5" cy="1011.5" r="4.86"/>
<circle cx="358.5" cy="1010.5" r="4.86"/>
<circle cx="361.5" cy="1008.5" r="4.86"/>
<circle cx="363.5" cy="1008.5" r="4.86"/>
<circle cx="365.5" cy="1007.5" r="4.86"/>
<circle cx="367.5" cy="1007.5" r="4.86"/>
<circle cx="370.5" cy="1007.5" r="4.86"/>
<circle cx="372.5" cy="1006.5" r="4.86"/>
<circle cx="374.5" cy="1006.5" r="4.86"/>
<circle cx="376.5" cy="1006.5" r="4.86"/>
<circle cx="379.5" cy="1004.5" r="4.86"/>
<circle cx="381.5" cy="1003.5" r="4.86"/>
<circle cx="383.5" cy="999.5" r="4.86"/>
<circle cx="385.5" cy="998.5" r="4.86"/>
<circle cx="388.5" cy="997.5" r="4.86"/>
<circle cx="390.5" cy="997.5" r="4.86"/>
<circle cx="392.5" cy="995.5" r="4.86"/>
<circle cx="394.5" cy="993.5" r="4.86"/>
<circle cx="397.5" cy="990.5" r="4.86"/>
<circle cx="399.5" cy="989.5" r="4.86"/>
<circle cx="401.5" cy="989.5" r="4.86"/>
<circle cx="403.5" cy="988.5" r="4.86"/>
<circle cx="406.5" cy="986.5" r="4.86"/>
<circle cx="408.5" cy="985.5" r="4.86"/>
<circle cx="410.5" cy="982.5" r="4.86"/>
<circle cx="412.5" cy="981.5" r="4.86"/>
<circle cx="414.5" cy="980.5" r="4.86"/>
<circle cx="417.5" cy="979.5" r="4.86"/>
<circle cx="419.5" cy="979.5" r="4.86"/>
<circle cx="421.5" cy="977.5" r="4.86"/>
<circle cx="423.5" cy="976.5" r="4.86"/>
<circle cx="426.5" cy="975.5" r="4.86"/>
<circle cx="428.5" cy="975.5" r="4.86"/>
<circle cx="430.5" cy="973.5" r="4.86"/>
<circle cx="432.5" cy="972.5" r="4.86"/>
<circle cx="435.5" cy="972.5" r="4.86"/>
<circle cx="437.5" cy="972.5" r="4.86"/>
<circle cx="439.5" cy="972.5" r="4.86"/>
<circle cx="441.5" cy="971.5" r="4.86"/>
<circle cx="444.5" cy="970.5" r="4.86"/>
<circle cx="446.5" cy="970.5" r="4.86"/>
<circle cx="448.5" cy="968.5" r="4.86"/>
<circle cx="450.5" cy="968.5" r="4.86"/>
<circle cx="453.5" cy="967.5" r="4.86"/>
<circle cx="455.5" cy="966.5" r="4.86"/>
<circle cx="457.5" cy="961.5" r="4.86"/>
<circle cx="459.5" cy="958.5" r="4.86"/>
<circle cx="462.5" cy="957.5" r="4.86"/>
<circle cx="464.5" cy="957.5" r="4.86"/>
<circle cx="466.5" cy="955.5" r="4.86"/>
<circle cx="468.5" cy="955.5" r="4.86"/>
<circle cx="471.5" cy="955.5" r="4.86"/>
<circle cx="473.5" cy="955.5" r="4.86"/>
<circle cx="475.5" cy="955.5" r="4.86"/>
<circle cx="477.5" cy="955.5" r="4.86"/>
<circle cx="480.5" cy="955.5" r="4.86"/>
<circle cx="482.5" cy="955.5" r="4.86"/>
<circle cx="484.5" cy="955.5" r="4.86"/>
<circle cx="486.5" cy="955.5" r="4.86"/>
<circle cx="489.5" cy="955.5" r="4.86"/>
<circle cx="491.5" cy="955.5" r="4.86"/>
<circle cx="493.5" cy="954.5" r="4.86"/>
<circle cx="495.5" cy="954.5" r="4.86"/>
<circle cx="498.5" cy="954.5" r="4.86"/>
<circle cx="500.5" cy="953.5" r="4.86"/>
<circle cx="502.5" cy="953.5" r="4.86"/>
<circle cx="504.5" cy="953.5" r="4.86"/>
<circle cx="507.5" cy="953.5" r="4.86"/>
<circle cx="509.5" cy="953.5" r="4.86"/>
<circle cx="511.5" cy="953.5" r="4.86"/>
<circle cx="513.5" cy="953.5" r="4.86"/>
<circle cx="515.5" cy="953.5" r="4.86"/>
<circle cx="518.5" cy="953.5" r="4.86"/>
<circle cx="520.5" cy="953.5" r="4.86"/>
<circle cx="522.5" cy="953.5" r="4.86"/>
<circle cx="524.5" cy="953.5" r="4.86"/>
<circle cx="527.5" cy="952.5" r="4.86"/>
<circle cx="529.5" cy="952.5" r="4.86"/>
<circle cx="531.5" cy="952.5" r="4.86"/>
<circle cx="533.5" cy="952.5" r="4.86"/>
<circle cx="536.5" cy="952.5" r="4.86"/>
<circle cx="538.5" cy="950.5" r="4.86"/>
<circle cx="540.5" cy="949.5" r="4.86"/>
<circle cx="542.5" cy="949.5" r="4.86"/>
<circle cx="545.5" cy="948.5" r="4.86"/>
<circle cx="547.5" cy="946.5" r="4.86"/>
<circle cx="549.5" cy="949.5" r="4.86"/>
<circle cx="551.5" cy="948.5" r="4.86"/>
<circle cx="554.5" cy="946.5" r="4.86"/>
<circle cx="556.5" cy="944.5" r="4.86"/>
<circle cx="558.5" cy="943.5" r="4.86"/>
<circle cx="560.5" cy="941.5" r="4.86"/>
<circle cx="563.5" cy="941.5" r="4.86"/>
<circle cx="565.5" cy="940.5" r="4.86"/>
<circle cx="567.5" cy="939.5" r="4.86"/>
<circle cx="569.5" cy="937.5" r="4.86"/>
<circle cx="572.5" cy="936.5" r="4.86"/>
<circle cx="574.5" cy="935.5" r="4.86"/>
<circle cx="576.5" cy="935.5" r="4.86"/>
<circle cx="578.5" cy="933.5" r="4.86"/>
<circle cx="581.5" cy="932.5" r="4.86"/>
<circle cx="583.5" cy="931.5" r="4.86"/>
<circle cx="585.5" cy="931.5" r="4.86"/>
<circle cx="587.5" cy="923.5" r="4.86"/>
<circle cx="590.5" cy="914.5" r="4.86"/>
<circle cx="592.5" cy="914.5" r="4.86"/>
<circle cx="594.5" cy="914.5" r="4.86"/>
<circle cx="596.5" cy="913.5" r="4.86"/>
<circle cx="599.5" cy="913.5" r="4.86"/>
<circle cx="601.5" cy="913.5" r="4.86"/>
<circle cx="603.5" cy="910.5" r="4.86"/>
<circle cx="605.5" cy="905.5" r="4.86"/>
<circle cx="608.5" cy="905.5" r="4.86"/>
<circle cx="610.5" cy="904.5" r="4.86"/>
<circle cx="612.5" cy="904.5" r="4.86"/>
<circle cx="614.5" cy="904.5" r="4.86"/>
<circle cx="617.5" cy="894.5" r="4.86"/>
<circle cx="619.5" cy="894.5" r="4.86"/>
<circle cx="621.5" cy="894.5" r="4.86"/>
<circle cx="623.5" cy="878.5" r="4.86"/>
<circle cx="625.5" cy="870.5" r="4.86"/>
<circle cx="628.5" cy="868.5" r="4.86"/>
<circle cx="630.5" cy="866.5" r="4.86"/>
<circle cx="632.5" cy="864.5" r="4.86"/>
<circle cx="634.5" cy="863.5" r="4.86"/>
<circle cx="637.5" cy="861.5" r="4.86"/>
<circle cx="639.5" cy="860.5" r="4.86"/>
<circle cx="641.5" cy="856.5" r="4.86"/>
<circle cx="643.5" cy="852.5" r="4.86"/>
<circle cx="646.5" cy="848.5" r="4.86"/>
<circle cx="648.5" cy="846.5" r="4.86"/>
<circle cx="650.5" cy="843.5" r="4.86"/>
<circle cx="652.5" cy="841.5" r="4.86"/>
<circle cx="655.5" cy="833.5" r="4.86"/>
<circle cx="657.5" cy="830.5" r="4.86"/>
<circle cx="659.5" cy="828.5" r="4.86"/>
<circle cx="661.5" cy="825.5" r="4.86"/>
<circle cx="664.5" cy="821.5" r="4.86"/>
<circle cx="666.5" cy="815.5" r="4.86"/>
<circle cx="668.5" cy="808.5" r="4.86"/>
<circle cx="670.5" cy="806.5" r="4.86"/>
<circle cx="673.5" cy="806.5" r="4.86"/>
<circle cx="675.5" cy="806.5" r="4.86"/>
<circle cx="677.5" cy="806.5" r="4.86"/>
<circle cx="679.5" cy="805.5" r="4.86"/>
<circle cx="682.5" cy="789.5" r="4.86"/>
<circle cx="684.5" cy="780.5" r="4.86"/>
<circle cx="686.5" cy="768.5" r="4.86"/>
<circle cx="688.5" cy="759.5" r="4.86"/>
<circle cx="691.5" cy="758.5" r="4.86"/>
<circle cx="693.5" cy="757.5" r="4.86"/>
<circle cx="695.5" cy="753.5" r="4.86"/>
<circle cx="697.5" cy="748.5" r="4.86"/>
<circle cx="700.5" cy="744.5" r="4.86"/>
<circle cx="702.5" cy="739.5" r="4.86"/>
<circle cx="704.5" cy="734.5" r="4.86"/>
<circle cx="706.5" cy="732.5" r="4.86"/>
<circle cx="709.5" cy="731.5" r="4.86"/>
<circle cx="711.5" cy="726.5" r="4.86"/>
<circle cx="713.5" cy="718.5" r="4.86"/>
<circle cx="715.5" cy="716.5" r="4.86"/>
<circle cx="718.5" cy="713.5" r="4.86"/>
<circle cx="720.5" cy="709.5" r="4.86"/>
<circle cx="722.5" cy="708.5" r="4.86"/>
<circle cx="724.5" cy="708.5" r="4.86"/>
<circle cx="726.5" cy="701.5" r="4.86"/>
<circle cx="729.5" cy="696.5" r="4.86"/>
<circle cx="731.5" cy="692.5" r="4.86"/>
<circle cx="733.5" cy="685.5" r="4.86"/>
<circle cx="735.5" cy="682.5" r="4.86"/>
<circle cx="738.5" cy="681.5" r="4.86"/>
<circle cx="740.5" cy="678.5" r="4.86"/>
<circle cx="742.5" cy="674.5" r="4.86"/>
<circle cx="744.5" cy="669.5" r="4.86"/>
<circle cx="747.5" cy="664.5" r="4.86"/>
<circle cx="749.5" cy="661.5" r="4.86"/>
<circle cx="751.5" cy="660.5" r="4.86"/>
<circle cx="753.5" cy="659.5" r="4.86"/>
<circle cx="756.5" cy="657.5" r="4.86"/>
<circle cx="758.5" cy="651.5" r="4.86"/>
<circle cx="760.5" cy="646.5" r="4.86"/>
<circle cx="762.5" cy="641.5" r="4.86"/>
<circle cx="765.5" cy="638.5" r="4.86"/>
<circle cx="767.5" cy="634.5" r="4.86"/>
<circle cx="769.5" cy="633.5" r="4.86"/>
<circle cx="771.5" cy="632.5" r="4.86"/>
<circle cx="774.5" cy="629.5" r="4.86"/>
<circle cx="776.5" cy="624.5" r="4.86"/>
<circle cx="778.5" cy="623.5" r="4.86"/>
<circle cx="780.5" cy="621.5" r="4.86"/>
<circle cx="783.5" cy="620.5" r="4.86"/>
</g>
<path d="M722 1145V592" stroke="#1f77b4" stroke-opacity="0.5" stroke-width="2.08" stroke-dasharray="7.71 3.33" fill="none"/>
</g>
<rect x="69.5" y="592.5" width="716.0" height="553.0" fill="none" stroke="#000" stroke-width="1.11" stroke-linejoin="miter"/>
<path d="M69.5 1145.5v5.0M785.5 1145.5v5.0M132.5 1145.5v5.0M199.5 1145.5v5.0M269.5 1145.5v5.0M336.5 1145.5v5.0M406.5 1145.5v5.0M475.5 1145.5v5.0M542.5 1145.5v5.0M612.5 1145.5v5.0M679.5 1145.5v5.0M749.5 1145.5v5.0M69.5 1145.5h-5.0M69.5 1081.5h-5.0M69.5 1016.5h-5.0M69.5 952.5h-5.0M69.5 887.5h-5.0M69.5 823.5h-5.0M69.5 758.5h-5.0M69.5 694.5h-5.0M69.5 629.5h-5.0" stroke="#000" stroke-width="1.11" fill="none"/>
<path d="M80.5 1145.5v2.92M96.5 1145.5v2.92M111.5 1145.5v2.92M127.5 1145.5v2.92M143.5 1145.5v2.92M159.5 1145.5v2.92M174.5 1145.5v2.92M190.5 1145.5v2.92M206.5 1145.5v2.92M221.5 1145.5v2.92M237.5 1145.5v2.92M253.5 1145.5v2.92M284.5 1145.5v2.92M300.5 1145.5v2.92M316.5 1145.5v2.92M331.5 1145.5v2.92M347.5 1145.5v2.92M363.5 1145.5v2.92M379.5 1145.5v2.92M394.5 1145.5v2.92M410.5 1145.5v2.92M426.5 1145.5v2.92M441.5 1145.5v2.92M457.5 1145.5v2.92M473.5 1145.5v2.92M489.5 1145.5v2.92M504.5 1145.5v2.92M520.5 1145.5v2.92M536.5 1145.5v2.92M551.5 1145.5v2.92M567.5 1145.5v2.92M583.5 1145.5v2.92M599.5 1145.5v2.92M614.5 1145.5v2.92M630.5 1145.5v2.92M646.5 1145.5v2.92M661.5 1145.5v2.92M677.5 1145.5v2.92M693.5 1145.5v2.92M709.5 1145.5v2.92M724.5 1145.5v2.92M740.5 1145.5v2.92M756.5 1145.5v2.92M771.5 1145.5v2.92" stroke="#000" stroke-width="0.83" fill="none"/>
<g font-size="13.89">
<text x="50.88" y="1150.5">0</text>
<text x="41.88" y="1085.5" dx="0 -1">50</text>
<text x="32.88" y="1021.5" dx="0 -1.07 -0.07">100</text>
<text x="32.88" y="956.5" dx="0 -0.7 -0.45">150</text>
<text x="32.88" y="892.5" dx="0 -0.05 -0.05">200</text>
<text x="32.88" y="827.5" dx="0 -0.05 -0.05">250</text>
<text x="32.88" y="763.5" dx="0 -1.07 -0.07">300</text>
<text x="32.88" y="698.5" dx="0 -1.07 -0.07">350</text>
<text x="33.88" y="634.5" dx="0 -1.07 -0.07">400</text>
<text x="119.88" y="1165.5" dx="0 -0.97 0.28">Apr</text>
<text x="184.88" y="1165.5" dx="0 -0.88 0.12">May</text>
<text x="257.88" y="1165.5" dx="0 -1.02 -0.03">Jun</text>
<text x="327.88" y="1165.5" dx="0 -1.02 -0.03">Jul</text>
<text x="391.88" y="1165.5" dx="0 -0.97 0.03">Aug</text>
<text x="462.88" y="1165.5" dx="0 -1.02 -0.03">Sep</text>
<text x="530.88" y="1165.5" dx="0 -0.88 -0.12">Oct</text>
<text x="598.88" y="1165.5" dx="0 -1.02 0.23">Nov</text>
<text x="665.88" y="1165.5" dx="0 -0.82 -0.07">Dec</text>
<text x="738.88" y="1165.5" dx="0 -1.02 -0.03">Jan</text>
<text x="730.88" y="1181.5" dx="0 -0.05 -0.05 -0.05">2021</text>
</g>
<rect x="76.5" y="599.5" width="97" height="25" rx="2.78" ry="2.78" fill="#fff" fill-opacity="0.8" stroke="#ccc" stroke-opacity="0.8" stroke-width="1.39"/>
<path d="M79.96 610H110.04" stroke="#1f77b4" stroke-width="2.08" fill="none"/>
<text x="120.88" y="614.5" dx="0 -0.95 0.17 -0.07 0.17 -0.2" font-size="13.89">deaths</text>
<text x="397.3" y="36.3" font-size="16.67" text-anchor="middle">Winnebago 28 days</text>
</svg></body></html>
